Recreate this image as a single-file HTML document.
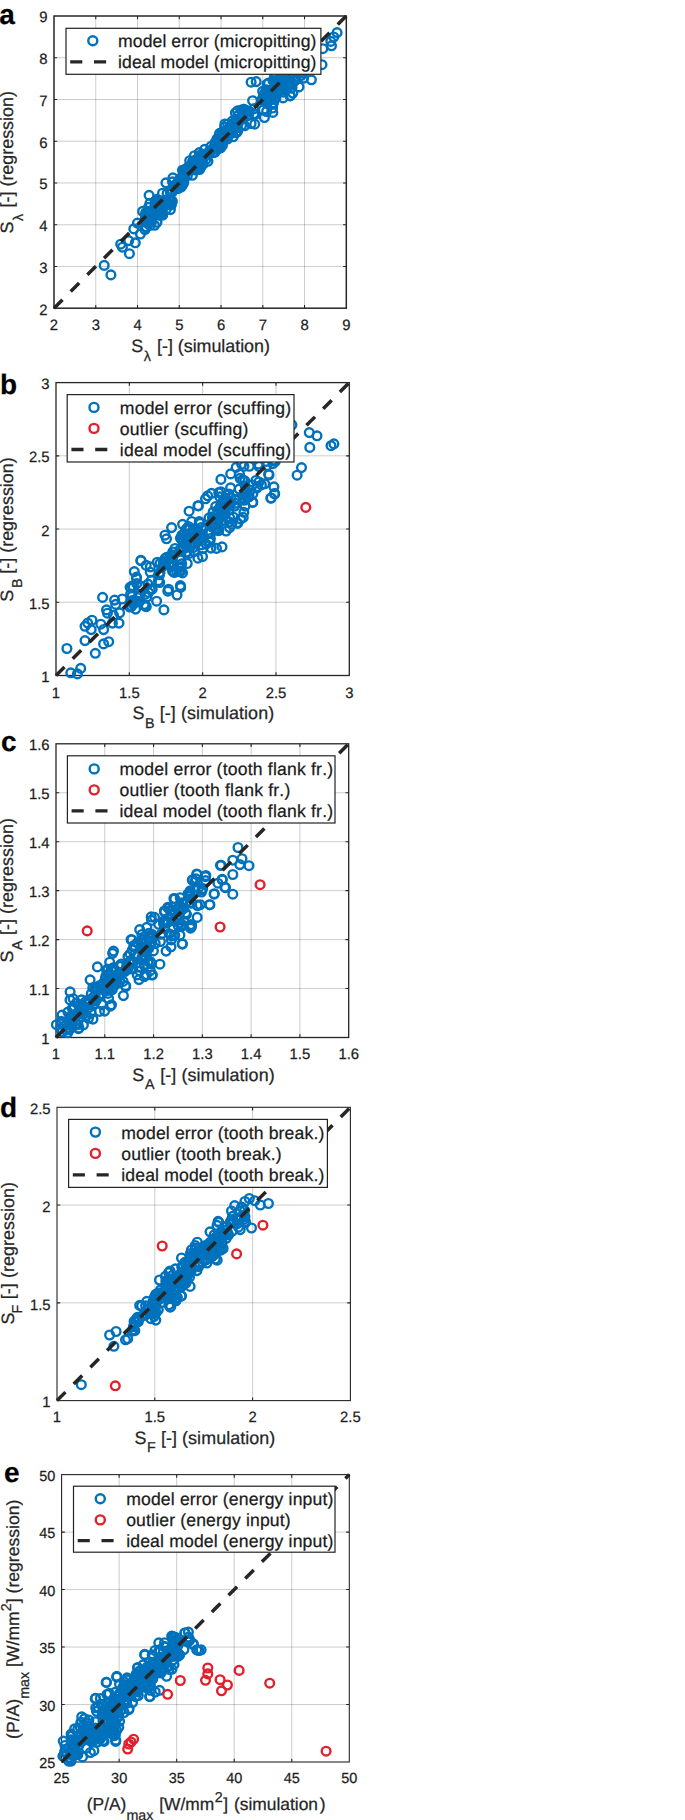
<!DOCTYPE html>
<html><head><meta charset="utf-8"><title>Regression vs simulation</title>
<style>html,body{margin:0;padding:0;background:#fff}body{width:685px;height:1820px;overflow:hidden}svg text{text-rendering:geometricPrecision;font-kerning:none;font-variant-ligatures:none;font-family:"Liberation Sans",Arial,Helvetica,sans-serif;stroke:#262626;stroke-width:.25px;paint-order:stroke}</style></head>
<body>
<svg width="685" height="1820" viewBox="0 0 685 1820" font-family="Liberation Sans, Arial, sans-serif" style="display:block">
<rect width="685" height="1820" fill="#fff"/>
<line x1="95.76" y1="16" x2="95.76" y2="308.2" stroke="#262626" stroke-opacity=".23" stroke-width="1"/>
<line x1="54" y1="266.46" x2="346.3" y2="266.46" stroke="#262626" stroke-opacity=".23" stroke-width="1"/>
<line x1="137.51" y1="16" x2="137.51" y2="308.2" stroke="#262626" stroke-opacity=".23" stroke-width="1"/>
<line x1="54" y1="224.71" x2="346.3" y2="224.71" stroke="#262626" stroke-opacity=".23" stroke-width="1"/>
<line x1="179.27" y1="16" x2="179.27" y2="308.2" stroke="#262626" stroke-opacity=".23" stroke-width="1"/>
<line x1="54" y1="182.97" x2="346.3" y2="182.97" stroke="#262626" stroke-opacity=".23" stroke-width="1"/>
<line x1="221.03" y1="16" x2="221.03" y2="308.2" stroke="#262626" stroke-opacity=".23" stroke-width="1"/>
<line x1="54" y1="141.23" x2="346.3" y2="141.23" stroke="#262626" stroke-opacity=".23" stroke-width="1"/>
<line x1="262.79" y1="16" x2="262.79" y2="308.2" stroke="#262626" stroke-opacity=".23" stroke-width="1"/>
<line x1="54" y1="99.49" x2="346.3" y2="99.49" stroke="#262626" stroke-opacity=".23" stroke-width="1"/>
<line x1="304.54" y1="16" x2="304.54" y2="308.2" stroke="#262626" stroke-opacity=".23" stroke-width="1"/>
<line x1="54" y1="57.74" x2="346.3" y2="57.74" stroke="#262626" stroke-opacity=".23" stroke-width="1"/>
<rect x="54" y="16" width="292.30" height="292.20" fill="none" stroke="#262626" stroke-width="1.5"/>
<path d="M95.76 308.2v-3.2M95.76 16v3.2M54 266.46h3.2M346.3 266.46h-3.2" stroke="#262626" stroke-width="1.1" fill="none"/>
<path d="M137.51 308.2v-3.2M137.51 16v3.2M54 224.71h3.2M346.3 224.71h-3.2" stroke="#262626" stroke-width="1.1" fill="none"/>
<path d="M179.27 308.2v-3.2M179.27 16v3.2M54 182.97h3.2M346.3 182.97h-3.2" stroke="#262626" stroke-width="1.1" fill="none"/>
<path d="M221.03 308.2v-3.2M221.03 16v3.2M54 141.23h3.2M346.3 141.23h-3.2" stroke="#262626" stroke-width="1.1" fill="none"/>
<path d="M262.79 308.2v-3.2M262.79 16v3.2M54 99.49h3.2M346.3 99.49h-3.2" stroke="#262626" stroke-width="1.1" fill="none"/>
<path d="M304.54 308.2v-3.2M304.54 16v3.2M54 57.74h3.2M346.3 57.74h-3.2" stroke="#262626" stroke-width="1.1" fill="none"/>
<g fill="none" stroke="#0072BD" stroke-width="2.4"><circle cx="104.2" cy="265.4" r="4.35"/><circle cx="110.9" cy="274.9" r="4.35"/><circle cx="120.7" cy="244.2" r="4.35"/><circle cx="122.4" cy="247.2" r="4.35"/><circle cx="129.4" cy="253.7" r="4.35"/><circle cx="128.7" cy="240.6" r="4.35"/><circle cx="135.3" cy="242.8" r="4.35"/><circle cx="140.4" cy="234.0" r="4.35"/><circle cx="133.8" cy="228.9" r="4.35"/><circle cx="137.4" cy="223.1" r="4.35"/><circle cx="142.6" cy="211.4" r="4.35"/><circle cx="149.1" cy="195.3" r="4.35"/><circle cx="149.9" cy="203.4" r="4.35"/><circle cx="251.1" cy="82.2" r="4.35"/><circle cx="256.2" cy="81.6" r="4.35"/><circle cx="251.1" cy="123.5" r="4.35"/><circle cx="254.7" cy="124.2" r="4.35"/><circle cx="337.1" cy="32.6" r="4.35"/><circle cx="333.7" cy="37.0" r="4.35"/><circle cx="330.8" cy="41.4" r="4.35"/><circle cx="331.5" cy="45.8" r="4.35"/><circle cx="322.8" cy="48.7" r="4.35"/><circle cx="322.0" cy="64.7" r="4.35"/><circle cx="311.4" cy="79.8" r="4.35"/><circle cx="252.6" cy="100.7" r="4.35"/><circle cx="247.6" cy="110.7" r="4.35"/><circle cx="264.4" cy="117.5" r="4.35"/><circle cx="272.8" cy="112.4" r="4.35"/><circle cx="157.0" cy="222.3" r="4.35"/><circle cx="157.4" cy="212.8" r="4.35"/><circle cx="158.6" cy="209.6" r="4.35"/><circle cx="158.7" cy="207.9" r="4.35"/><circle cx="162.2" cy="201.3" r="4.35"/><circle cx="152.6" cy="214.7" r="4.35"/><circle cx="146.4" cy="213.9" r="4.35"/><circle cx="145.0" cy="229.5" r="4.35"/><circle cx="172.5" cy="181.8" r="4.35"/><circle cx="161.8" cy="204.8" r="4.35"/><circle cx="148.4" cy="207.3" r="4.35"/><circle cx="145.5" cy="218.0" r="4.35"/><circle cx="149.3" cy="214.9" r="4.35"/><circle cx="157.3" cy="205.2" r="4.35"/><circle cx="156.7" cy="203.0" r="4.35"/><circle cx="162.5" cy="209.0" r="4.35"/><circle cx="158.4" cy="210.0" r="4.35"/><circle cx="151.9" cy="219.1" r="4.35"/><circle cx="172.9" cy="177.8" r="4.35"/><circle cx="164.5" cy="200.2" r="4.35"/><circle cx="153.0" cy="210.6" r="4.35"/><circle cx="145.8" cy="212.7" r="4.35"/><circle cx="166.2" cy="209.3" r="4.35"/><circle cx="155.1" cy="201.2" r="4.35"/><circle cx="171.8" cy="192.4" r="4.35"/><circle cx="149.9" cy="214.6" r="4.35"/><circle cx="170.4" cy="209.6" r="4.35"/><circle cx="155.4" cy="205.2" r="4.35"/><circle cx="145.9" cy="226.9" r="4.35"/><circle cx="151.7" cy="221.6" r="4.35"/><circle cx="146.3" cy="227.1" r="4.35"/><circle cx="165.9" cy="182.8" r="4.35"/><circle cx="147.2" cy="217.0" r="4.35"/><circle cx="145.5" cy="215.5" r="4.35"/><circle cx="167.1" cy="193.3" r="4.35"/><circle cx="156.9" cy="199.3" r="4.35"/><circle cx="149.4" cy="215.4" r="4.35"/><circle cx="162.6" cy="205.5" r="4.35"/><circle cx="147.2" cy="221.4" r="4.35"/><circle cx="151.7" cy="210.3" r="4.35"/><circle cx="172.2" cy="190.2" r="4.35"/><circle cx="169.6" cy="200.4" r="4.35"/><circle cx="149.9" cy="225.4" r="4.35"/><circle cx="162.5" cy="193.2" r="4.35"/><circle cx="146.7" cy="212.7" r="4.35"/><circle cx="151.3" cy="213.3" r="4.35"/><circle cx="166.4" cy="200.8" r="4.35"/><circle cx="145.9" cy="213.2" r="4.35"/><circle cx="146.4" cy="222.5" r="4.35"/><circle cx="161.4" cy="205.6" r="4.35"/><circle cx="154.6" cy="225.3" r="4.35"/><circle cx="157.9" cy="201.2" r="4.35"/><circle cx="160.6" cy="200.7" r="4.35"/><circle cx="148.3" cy="219.4" r="4.35"/><circle cx="170.3" cy="191.8" r="4.35"/><circle cx="161.2" cy="214.4" r="4.35"/><circle cx="169.2" cy="200.9" r="4.35"/><circle cx="172.3" cy="201.4" r="4.35"/><circle cx="171.3" cy="204.9" r="4.35"/><circle cx="159.9" cy="215.4" r="4.35"/><circle cx="159.0" cy="210.7" r="4.35"/><circle cx="168.7" cy="204.7" r="4.35"/><circle cx="162.1" cy="208.0" r="4.35"/><circle cx="162.7" cy="215.0" r="4.35"/><circle cx="161.0" cy="212.0" r="4.35"/><circle cx="161.7" cy="212.5" r="4.35"/><circle cx="166.6" cy="202.6" r="4.35"/><circle cx="162.5" cy="214.8" r="4.35"/><circle cx="171.8" cy="200.7" r="4.35"/><circle cx="175.3" cy="186.4" r="4.35"/><circle cx="176.7" cy="183.6" r="4.35"/><circle cx="176.1" cy="185.4" r="4.35"/><circle cx="177.8" cy="182.3" r="4.35"/><circle cx="180.4" cy="179.5" r="4.35"/><circle cx="181.2" cy="183.9" r="4.35"/><circle cx="177.9" cy="188.6" r="4.35"/><circle cx="174.2" cy="187.4" r="4.35"/><circle cx="180.6" cy="181.5" r="4.35"/><circle cx="178.9" cy="182.7" r="4.35"/><circle cx="193.9" cy="165.2" r="4.35"/><circle cx="190.3" cy="169.1" r="4.35"/><circle cx="202.2" cy="160.7" r="4.35"/><circle cx="181.0" cy="185.1" r="4.35"/><circle cx="199.9" cy="161.1" r="4.35"/><circle cx="196.2" cy="165.0" r="4.35"/><circle cx="200.3" cy="166.4" r="4.35"/><circle cx="187.4" cy="175.5" r="4.35"/><circle cx="199.3" cy="168.7" r="4.35"/><circle cx="188.9" cy="167.7" r="4.35"/><circle cx="192.4" cy="175.3" r="4.35"/><circle cx="193.6" cy="169.8" r="4.35"/><circle cx="193.3" cy="161.6" r="4.35"/><circle cx="181.1" cy="187.1" r="4.35"/><circle cx="199.5" cy="169.5" r="4.35"/><circle cx="196.0" cy="168.6" r="4.35"/><circle cx="192.6" cy="161.5" r="4.35"/><circle cx="189.4" cy="168.5" r="4.35"/><circle cx="196.5" cy="164.0" r="4.35"/><circle cx="180.0" cy="183.2" r="4.35"/><circle cx="184.6" cy="177.5" r="4.35"/><circle cx="195.3" cy="169.9" r="4.35"/><circle cx="200.4" cy="158.4" r="4.35"/><circle cx="185.1" cy="169.9" r="4.35"/><circle cx="194.8" cy="163.8" r="4.35"/><circle cx="183.9" cy="170.2" r="4.35"/><circle cx="194.4" cy="155.7" r="4.35"/><circle cx="189.4" cy="166.3" r="4.35"/><circle cx="194.6" cy="166.9" r="4.35"/><circle cx="183.8" cy="182.6" r="4.35"/><circle cx="200.3" cy="155.1" r="4.35"/><circle cx="199.5" cy="164.0" r="4.35"/><circle cx="186.5" cy="168.3" r="4.35"/><circle cx="182.4" cy="185.3" r="4.35"/><circle cx="198.8" cy="160.0" r="4.35"/><circle cx="195.6" cy="159.8" r="4.35"/><circle cx="183.2" cy="176.9" r="4.35"/><circle cx="189.6" cy="169.8" r="4.35"/><circle cx="188.8" cy="167.0" r="4.35"/><circle cx="193.6" cy="169.3" r="4.35"/><circle cx="198.5" cy="160.2" r="4.35"/><circle cx="201.8" cy="158.8" r="4.35"/><circle cx="180.0" cy="178.4" r="4.35"/><circle cx="199.3" cy="152.6" r="4.35"/><circle cx="192.4" cy="164.7" r="4.35"/><circle cx="186.4" cy="172.3" r="4.35"/><circle cx="182.4" cy="177.4" r="4.35"/><circle cx="189.7" cy="160.7" r="4.35"/><circle cx="184.7" cy="172.8" r="4.35"/><circle cx="182.5" cy="170.2" r="4.35"/><circle cx="209.5" cy="151.2" r="4.35"/><circle cx="213.3" cy="152.8" r="4.35"/><circle cx="220.2" cy="147.7" r="4.35"/><circle cx="214.4" cy="146.5" r="4.35"/><circle cx="203.9" cy="154.3" r="4.35"/><circle cx="200.4" cy="167.7" r="4.35"/><circle cx="203.9" cy="157.3" r="4.35"/><circle cx="205.8" cy="159.7" r="4.35"/><circle cx="211.0" cy="146.4" r="4.35"/><circle cx="213.0" cy="149.1" r="4.35"/><circle cx="216.7" cy="149.3" r="4.35"/><circle cx="219.1" cy="135.7" r="4.35"/><circle cx="215.2" cy="142.5" r="4.35"/><circle cx="202.9" cy="164.4" r="4.35"/><circle cx="219.1" cy="141.6" r="4.35"/><circle cx="208.0" cy="161.3" r="4.35"/><circle cx="216.8" cy="148.7" r="4.35"/><circle cx="219.9" cy="147.7" r="4.35"/><circle cx="204.4" cy="156.6" r="4.35"/><circle cx="215.2" cy="144.8" r="4.35"/><circle cx="215.1" cy="152.0" r="4.35"/><circle cx="204.6" cy="149.4" r="4.35"/><circle cx="220.6" cy="147.9" r="4.35"/><circle cx="211.4" cy="150.1" r="4.35"/><circle cx="219.1" cy="146.3" r="4.35"/><circle cx="218.0" cy="145.1" r="4.35"/><circle cx="209.4" cy="151.6" r="4.35"/><circle cx="211.6" cy="150.1" r="4.35"/><circle cx="200.7" cy="165.8" r="4.35"/><circle cx="217.0" cy="139.0" r="4.35"/><circle cx="223.6" cy="132.2" r="4.35"/><circle cx="228.0" cy="130.7" r="4.35"/><circle cx="223.0" cy="139.0" r="4.35"/><circle cx="233.0" cy="128.0" r="4.35"/><circle cx="237.7" cy="131.1" r="4.35"/><circle cx="244.6" cy="125.8" r="4.35"/><circle cx="221.3" cy="137.5" r="4.35"/><circle cx="225.0" cy="138.5" r="4.35"/><circle cx="238.7" cy="121.3" r="4.35"/><circle cx="236.3" cy="132.6" r="4.35"/><circle cx="234.1" cy="126.6" r="4.35"/><circle cx="227.4" cy="139.0" r="4.35"/><circle cx="243.4" cy="109.4" r="4.35"/><circle cx="224.6" cy="127.0" r="4.35"/><circle cx="233.2" cy="136.8" r="4.35"/><circle cx="234.5" cy="123.0" r="4.35"/><circle cx="232.6" cy="120.8" r="4.35"/><circle cx="235.4" cy="113.0" r="4.35"/><circle cx="232.9" cy="124.1" r="4.35"/><circle cx="229.8" cy="127.5" r="4.35"/><circle cx="232.3" cy="133.2" r="4.35"/><circle cx="237.7" cy="115.9" r="4.35"/><circle cx="230.2" cy="126.7" r="4.35"/><circle cx="244.9" cy="110.9" r="4.35"/><circle cx="231.8" cy="129.4" r="4.35"/><circle cx="222.4" cy="145.4" r="4.35"/><circle cx="243.4" cy="112.2" r="4.35"/><circle cx="231.9" cy="128.8" r="4.35"/><circle cx="235.7" cy="120.6" r="4.35"/><circle cx="244.1" cy="109.3" r="4.35"/><circle cx="219.6" cy="133.4" r="4.35"/><circle cx="224.2" cy="134.0" r="4.35"/><circle cx="227.7" cy="124.1" r="4.35"/><circle cx="228.6" cy="132.5" r="4.35"/><circle cx="238.8" cy="122.2" r="4.35"/><circle cx="222.3" cy="140.9" r="4.35"/><circle cx="224.3" cy="135.3" r="4.35"/><circle cx="233.3" cy="130.5" r="4.35"/><circle cx="230.2" cy="127.3" r="4.35"/><circle cx="233.3" cy="124.2" r="4.35"/><circle cx="236.1" cy="120.4" r="4.35"/><circle cx="236.3" cy="132.7" r="4.35"/><circle cx="235.5" cy="125.6" r="4.35"/><circle cx="242.2" cy="116.3" r="4.35"/><circle cx="240.9" cy="110.2" r="4.35"/><circle cx="243.4" cy="117.7" r="4.35"/><circle cx="244.0" cy="111.4" r="4.35"/><circle cx="224.9" cy="124.0" r="4.35"/><circle cx="222.6" cy="136.9" r="4.35"/><circle cx="225.4" cy="134.5" r="4.35"/><circle cx="221.6" cy="141.6" r="4.35"/><circle cx="241.5" cy="125.6" r="4.35"/><circle cx="222.4" cy="132.8" r="4.35"/><circle cx="229.9" cy="129.8" r="4.35"/><circle cx="224.4" cy="135.8" r="4.35"/><circle cx="237.5" cy="110.9" r="4.35"/><circle cx="222.1" cy="144.2" r="4.35"/><circle cx="232.7" cy="126.4" r="4.35"/><circle cx="237.6" cy="127.7" r="4.35"/><circle cx="224.1" cy="133.1" r="4.35"/><circle cx="246.7" cy="115.4" r="4.35"/><circle cx="255.3" cy="114.3" r="4.35"/><circle cx="248.5" cy="115.2" r="4.35"/><circle cx="249.2" cy="111.2" r="4.35"/><circle cx="262.6" cy="91.3" r="4.35"/><circle cx="261.6" cy="100.1" r="4.35"/><circle cx="262.0" cy="100.1" r="4.35"/><circle cx="253.8" cy="108.9" r="4.35"/><circle cx="253.9" cy="113.7" r="4.35"/><circle cx="254.7" cy="114.6" r="4.35"/><circle cx="263.4" cy="95.8" r="4.35"/><circle cx="297.9" cy="63.5" r="4.35"/><circle cx="285.5" cy="84.3" r="4.35"/><circle cx="299.8" cy="70.2" r="4.35"/><circle cx="271.1" cy="90.2" r="4.35"/><circle cx="288.5" cy="56.1" r="4.35"/><circle cx="303.0" cy="59.9" r="4.35"/><circle cx="298.1" cy="58.0" r="4.35"/><circle cx="283.1" cy="92.1" r="4.35"/><circle cx="292.8" cy="93.1" r="4.35"/><circle cx="303.1" cy="62.4" r="4.35"/><circle cx="275.7" cy="75.6" r="4.35"/><circle cx="301.8" cy="71.4" r="4.35"/><circle cx="303.6" cy="78.1" r="4.35"/><circle cx="306.9" cy="46.5" r="4.35"/><circle cx="297.6" cy="65.4" r="4.35"/><circle cx="283.1" cy="97.9" r="4.35"/><circle cx="299.0" cy="57.9" r="4.35"/><circle cx="286.3" cy="74.7" r="4.35"/><circle cx="263.3" cy="109.9" r="4.35"/><circle cx="294.1" cy="59.9" r="4.35"/><circle cx="274.4" cy="77.0" r="4.35"/><circle cx="279.7" cy="89.9" r="4.35"/><circle cx="295.8" cy="79.7" r="4.35"/><circle cx="282.3" cy="87.5" r="4.35"/><circle cx="312.9" cy="61.3" r="4.35"/><circle cx="301.0" cy="75.5" r="4.35"/><circle cx="311.9" cy="39.8" r="4.35"/><circle cx="299.8" cy="63.1" r="4.35"/><circle cx="275.6" cy="91.7" r="4.35"/><circle cx="272.6" cy="90.4" r="4.35"/><circle cx="281.6" cy="77.2" r="4.35"/><circle cx="308.2" cy="52.4" r="4.35"/><circle cx="290.3" cy="95.6" r="4.35"/><circle cx="291.2" cy="74.8" r="4.35"/><circle cx="312.6" cy="63.5" r="4.35"/><circle cx="266.6" cy="111.5" r="4.35"/><circle cx="292.7" cy="71.9" r="4.35"/><circle cx="309.4" cy="58.3" r="4.35"/><circle cx="270.8" cy="99.7" r="4.35"/><circle cx="287.6" cy="76.1" r="4.35"/><circle cx="293.4" cy="50.3" r="4.35"/><circle cx="283.9" cy="72.6" r="4.35"/><circle cx="289.2" cy="83.1" r="4.35"/><circle cx="277.1" cy="93.0" r="4.35"/><circle cx="295.6" cy="76.5" r="4.35"/><circle cx="298.7" cy="69.0" r="4.35"/><circle cx="277.6" cy="80.0" r="4.35"/><circle cx="264.9" cy="99.2" r="4.35"/><circle cx="270.6" cy="93.9" r="4.35"/><circle cx="307.8" cy="66.6" r="4.35"/><circle cx="300.3" cy="43.4" r="4.35"/><circle cx="310.1" cy="45.8" r="4.35"/><circle cx="266.5" cy="89.9" r="4.35"/><circle cx="286.7" cy="83.8" r="4.35"/><circle cx="311.5" cy="52.8" r="4.35"/><circle cx="309.8" cy="43.4" r="4.35"/><circle cx="299.0" cy="86.9" r="4.35"/><circle cx="303.7" cy="55.8" r="4.35"/><circle cx="293.0" cy="61.7" r="4.35"/><circle cx="285.6" cy="70.3" r="4.35"/><circle cx="273.0" cy="80.6" r="4.35"/><circle cx="269.0" cy="92.0" r="4.35"/><circle cx="285.0" cy="85.0" r="4.35"/><circle cx="275.9" cy="98.1" r="4.35"/><circle cx="292.0" cy="87.4" r="4.35"/><circle cx="289.4" cy="67.3" r="4.35"/><circle cx="312.8" cy="37.1" r="4.35"/><circle cx="274.7" cy="94.6" r="4.35"/><circle cx="268.5" cy="83.1" r="4.35"/><circle cx="294.1" cy="81.2" r="4.35"/><circle cx="280.8" cy="86.0" r="4.35"/><circle cx="291.1" cy="59.2" r="4.35"/><circle cx="292.4" cy="83.1" r="4.35"/><circle cx="272.3" cy="104.4" r="4.35"/><circle cx="275.3" cy="68.4" r="4.35"/><circle cx="306.8" cy="60.7" r="4.35"/><circle cx="264.8" cy="92.9" r="4.35"/><circle cx="284.1" cy="77.8" r="4.35"/><circle cx="294.0" cy="61.2" r="4.35"/><circle cx="266.4" cy="91.2" r="4.35"/><circle cx="267.1" cy="103.1" r="4.35"/><circle cx="294.4" cy="81.2" r="4.35"/><circle cx="281.5" cy="89.8" r="4.35"/><circle cx="280.0" cy="83.9" r="4.35"/><circle cx="300.1" cy="62.7" r="4.35"/><circle cx="268.8" cy="99.2" r="4.35"/><circle cx="303.3" cy="73.2" r="4.35"/><circle cx="273.5" cy="102.8" r="4.35"/><circle cx="284.0" cy="81.6" r="4.35"/><circle cx="281.3" cy="66.0" r="4.35"/><circle cx="295.5" cy="60.7" r="4.35"/><circle cx="290.3" cy="75.1" r="4.35"/><circle cx="300.2" cy="55.7" r="4.35"/><circle cx="281.3" cy="88.3" r="4.35"/><circle cx="267.6" cy="94.4" r="4.35"/><circle cx="266.9" cy="100.6" r="4.35"/><circle cx="291.1" cy="88.3" r="4.35"/><circle cx="277.8" cy="85.6" r="4.35"/><circle cx="301.6" cy="57.2" r="4.35"/><circle cx="296.0" cy="65.8" r="4.35"/><circle cx="266.9" cy="103.0" r="4.35"/><circle cx="297.6" cy="52.7" r="4.35"/><circle cx="277.0" cy="82.2" r="4.35"/><circle cx="299.2" cy="58.6" r="4.35"/><circle cx="281.1" cy="72.5" r="4.35"/><circle cx="291.3" cy="63.3" r="4.35"/><circle cx="308.8" cy="36.2" r="4.35"/><circle cx="284.7" cy="87.9" r="4.35"/><circle cx="303.0" cy="64.6" r="4.35"/><circle cx="282.8" cy="74.1" r="4.35"/><circle cx="309.6" cy="49.4" r="4.35"/><circle cx="280.9" cy="88.3" r="4.35"/><circle cx="281.1" cy="90.0" r="4.35"/><circle cx="282.2" cy="75.3" r="4.35"/><circle cx="272.6" cy="108.0" r="4.35"/><circle cx="289.9" cy="81.6" r="4.35"/><circle cx="304.7" cy="65.6" r="4.35"/><circle cx="300.8" cy="66.3" r="4.35"/><circle cx="306.9" cy="58.3" r="4.35"/><circle cx="288.6" cy="74.2" r="4.35"/><circle cx="290.1" cy="95.9" r="4.35"/><circle cx="295.4" cy="79.7" r="4.35"/><circle cx="303.1" cy="50.6" r="4.35"/><circle cx="302.3" cy="57.8" r="4.35"/><circle cx="267.0" cy="84.1" r="4.35"/><circle cx="307.8" cy="49.3" r="4.35"/><circle cx="267.0" cy="101.3" r="4.35"/><circle cx="300.2" cy="68.6" r="4.35"/><circle cx="295.3" cy="69.3" r="4.35"/><circle cx="295.7" cy="51.4" r="4.35"/><circle cx="286.6" cy="62.1" r="4.35"/><circle cx="279.7" cy="71.8" r="4.35"/><circle cx="303.4" cy="46.9" r="4.35"/><circle cx="287.2" cy="64.3" r="4.35"/><circle cx="294.1" cy="56.3" r="4.35"/><circle cx="282.4" cy="71.9" r="4.35"/><circle cx="298.0" cy="53.4" r="4.35"/><circle cx="297.2" cy="55.9" r="4.35"/><circle cx="298.3" cy="45.8" r="4.35"/><circle cx="291.0" cy="62.0" r="4.35"/><circle cx="286.6" cy="63.4" r="4.35"/><circle cx="282.8" cy="70.5" r="4.35"/><circle cx="282.8" cy="63.7" r="4.35"/></g>
<line x1="54" y1="308.2" x2="346.3" y2="16" stroke="#262626" stroke-width="3.5" stroke-dasharray="12 11.6"/>
<text transform="translate(54.00 329.80) scale(.99 1)" text-anchor="middle" font-size="15.0" fill="#1c1c1c">2</text>
<text transform="translate(47.60 314.55) scale(.99 1)" text-anchor="end" font-size="15.0" fill="#1c1c1c">2</text>
<text transform="translate(95.76 329.80) scale(.99 1)" text-anchor="middle" font-size="15.0" fill="#1c1c1c">3</text>
<text transform="translate(47.60 272.81) scale(.99 1)" text-anchor="end" font-size="15.0" fill="#1c1c1c">3</text>
<text transform="translate(137.51 329.80) scale(.99 1)" text-anchor="middle" font-size="15.0" fill="#1c1c1c">4</text>
<text transform="translate(47.60 231.06) scale(.99 1)" text-anchor="end" font-size="15.0" fill="#1c1c1c">4</text>
<text transform="translate(179.27 329.80) scale(.99 1)" text-anchor="middle" font-size="15.0" fill="#1c1c1c">5</text>
<text transform="translate(47.60 189.32) scale(.99 1)" text-anchor="end" font-size="15.0" fill="#1c1c1c">5</text>
<text transform="translate(221.03 329.80) scale(.99 1)" text-anchor="middle" font-size="15.0" fill="#1c1c1c">6</text>
<text transform="translate(47.60 147.58) scale(.99 1)" text-anchor="end" font-size="15.0" fill="#1c1c1c">6</text>
<text transform="translate(262.79 329.80) scale(.99 1)" text-anchor="middle" font-size="15.0" fill="#1c1c1c">7</text>
<text transform="translate(47.60 105.84) scale(.99 1)" text-anchor="end" font-size="15.0" fill="#1c1c1c">7</text>
<text transform="translate(304.54 329.80) scale(.99 1)" text-anchor="middle" font-size="15.0" fill="#1c1c1c">8</text>
<text transform="translate(47.60 64.09) scale(.99 1)" text-anchor="end" font-size="15.0" fill="#1c1c1c">8</text>
<text transform="translate(346.30 329.80) scale(.99 1)" text-anchor="middle" font-size="15.0" fill="#1c1c1c">9</text>
<text transform="translate(47.60 22.35) scale(.99 1)" text-anchor="end" font-size="15.0" fill="#1c1c1c">9</text>
<rect x="66" y="28.3" width="254.90" height="46.00" fill="#fff" stroke="#222" stroke-width="1.2"/>
<circle cx="92.8" cy="40.8" r="4.5" fill="none" stroke="#0072BD" stroke-width="2.4"/>
<text x="118.1" y="47.2" font-size="17.6" letter-spacing="0.07" fill="#1a1a1a">model error (micropitting)</text>
<line x1="70.2" y1="61.8" x2="106.2" y2="61.8" stroke="#262626" stroke-width="3.3" stroke-dasharray="12.1 11.7"/>
<text x="118.1" y="68.2" font-size="17.6" letter-spacing="0.07" fill="#1a1a1a">ideal model (micropitting)</text>
<text x="-0.7" y="24.0" font-size="28" font-weight="bold" fill="#000">a</text>
<text font-size="17.9" fill="#262626"><tspan x="131.2" y="352.3">S</tspan><tspan x="143.8" y="361.2" font-size="14.3">λ</tspan><tspan x="152.1" y="352.3" letter-spacing="-0.03" xml:space="preserve"> [-] (simulation)</tspan></text>
<g transform="translate(13.1,233.6) rotate(-90)"><text font-size="17.9" fill="#262626"><tspan x="0" y="0">S</tspan><tspan x="12.6" y="9.5" font-size="14.3">λ</tspan><tspan x="21.2" y="0" letter-spacing="0" xml:space="preserve"> [-] (regression)</tspan></text></g>
<line x1="129.32" y1="382.6" x2="129.32" y2="675.5" stroke="#262626" stroke-opacity=".23" stroke-width="1"/>
<line x1="56" y1="602.27" x2="349.3" y2="602.27" stroke="#262626" stroke-opacity=".23" stroke-width="1"/>
<line x1="202.65" y1="382.6" x2="202.65" y2="675.5" stroke="#262626" stroke-opacity=".23" stroke-width="1"/>
<line x1="56" y1="529.05" x2="349.3" y2="529.05" stroke="#262626" stroke-opacity=".23" stroke-width="1"/>
<line x1="275.98" y1="382.6" x2="275.98" y2="675.5" stroke="#262626" stroke-opacity=".23" stroke-width="1"/>
<line x1="56" y1="455.83" x2="349.3" y2="455.83" stroke="#262626" stroke-opacity=".23" stroke-width="1"/>
<rect x="56" y="382.6" width="293.30" height="292.90" fill="none" stroke="#262626" stroke-width="1.3"/>
<path d="M129.32 675.5v-3.2M129.32 382.6v3.2M56 602.27h3.2M349.3 602.27h-3.2" stroke="#262626" stroke-width="1.1" fill="none"/>
<path d="M202.65 675.5v-3.2M202.65 382.6v3.2M56 529.05h3.2M349.3 529.05h-3.2" stroke="#262626" stroke-width="1.1" fill="none"/>
<path d="M275.98 675.5v-3.2M275.98 382.6v3.2M56 455.83h3.2M349.3 455.83h-3.2" stroke="#262626" stroke-width="1.1" fill="none"/>
<g fill="none" stroke="#0072BD" stroke-width="2.4"><circle cx="66.9" cy="648.5" r="4.35"/><circle cx="70.8" cy="672.8" r="4.35"/><circle cx="77.4" cy="673.9" r="4.35"/><circle cx="80.7" cy="668.4" r="4.35"/><circle cx="95.3" cy="653.3" r="4.35"/><circle cx="85.0" cy="640.6" r="4.35"/><circle cx="103.6" cy="643.9" r="4.35"/><circle cx="108.7" cy="641.7" r="4.35"/><circle cx="85.0" cy="626.3" r="4.35"/><circle cx="87.7" cy="623.1" r="4.35"/><circle cx="92.0" cy="620.2" r="4.35"/><circle cx="91.2" cy="629.6" r="4.35"/><circle cx="100.8" cy="624.2" r="4.35"/><circle cx="103.6" cy="629.6" r="4.35"/><circle cx="102.6" cy="597.4" r="4.35"/><circle cx="106.5" cy="609.9" r="4.35"/><circle cx="107.4" cy="613.2" r="4.35"/><circle cx="114.6" cy="600.1" r="4.35"/><circle cx="115.7" cy="604.4" r="4.35"/><circle cx="122.3" cy="599.0" r="4.35"/><circle cx="119.6" cy="612.8" r="4.35"/><circle cx="113.5" cy="615.4" r="4.35"/><circle cx="119.0" cy="623.1" r="4.35"/><circle cx="112.4" cy="623.1" r="4.35"/><circle cx="132.8" cy="600.5" r="4.35"/><circle cx="137.6" cy="601.6" r="4.35"/><circle cx="146.3" cy="606.6" r="4.35"/><circle cx="156.6" cy="601.2" r="4.35"/><circle cx="163.9" cy="609.9" r="4.35"/><circle cx="177.0" cy="595.0" r="4.35"/><circle cx="180.7" cy="587.4" r="4.35"/><circle cx="133.2" cy="587.4" r="4.35"/><circle cx="134.3" cy="571.6" r="4.35"/><circle cx="136.5" cy="577.1" r="4.35"/><circle cx="140.9" cy="560.7" r="4.35"/><circle cx="148.5" cy="592.4" r="4.35"/><circle cx="309.3" cy="432.6" r="4.35"/><circle cx="317.0" cy="435.8" r="4.35"/><circle cx="309.8" cy="447.4" r="4.35"/><circle cx="331.0" cy="445.7" r="4.35"/><circle cx="333.9" cy="443.9" r="4.35"/><circle cx="291.9" cy="424.9" r="4.35"/><circle cx="301.5" cy="467.6" r="4.35"/><circle cx="297.1" cy="475.2" r="4.35"/><circle cx="274.7" cy="493.9" r="4.35"/><circle cx="270.8" cy="498.2" r="4.35"/><circle cx="268.6" cy="474.2" r="4.35"/><circle cx="252.8" cy="502.2" r="4.35"/><circle cx="237.5" cy="523.4" r="4.35"/><circle cx="207.7" cy="495.8" r="4.35"/><circle cx="220.9" cy="479.4" r="4.35"/><circle cx="189.1" cy="511.2" r="4.35"/><circle cx="171.6" cy="527.6" r="4.35"/><circle cx="165.0" cy="535.2" r="4.35"/><circle cx="140.9" cy="560.4" r="4.35"/><circle cx="236.2" cy="467.4" r="4.35"/><circle cx="230.7" cy="473.9" r="4.35"/><circle cx="239.5" cy="473.9" r="4.35"/><circle cx="243.9" cy="466.3" r="4.35"/><circle cx="249.3" cy="466.3" r="4.35"/><circle cx="218.7" cy="492.6" r="4.35"/><circle cx="219.8" cy="496.9" r="4.35"/><circle cx="197.9" cy="505.7" r="4.35"/><circle cx="182.6" cy="524.3" r="4.35"/><circle cx="216.5" cy="548.4" r="4.35"/><circle cx="222.0" cy="546.9" r="4.35"/><circle cx="229.6" cy="527.6" r="4.35"/><circle cx="237.3" cy="522.8" r="4.35"/><circle cx="252.6" cy="502.4" r="4.35"/><circle cx="271.2" cy="498.0" r="4.35"/><circle cx="274.5" cy="493.6" r="4.35"/><circle cx="197.9" cy="558.2" r="4.35"/><circle cx="180.4" cy="567.0" r="4.35"/><circle cx="179.3" cy="571.4" r="4.35"/><circle cx="180.4" cy="585.6" r="4.35"/><circle cx="209.9" cy="541.8" r="4.35"/><circle cx="243.9" cy="512.3" r="4.35"/><circle cx="269.0" cy="475.0" r="4.35"/><circle cx="261.4" cy="484.9" r="4.35"/><circle cx="264.7" cy="483.8" r="4.35"/><circle cx="255.9" cy="480.5" r="4.35"/><circle cx="150.2" cy="589.5" r="4.35"/><circle cx="135.6" cy="609.1" r="4.35"/><circle cx="129.8" cy="607.0" r="4.35"/><circle cx="165.0" cy="558.6" r="4.35"/><circle cx="159.7" cy="582.5" r="4.35"/><circle cx="158.4" cy="580.7" r="4.35"/><circle cx="135.7" cy="600.9" r="4.35"/><circle cx="169.2" cy="558.4" r="4.35"/><circle cx="131.9" cy="596.3" r="4.35"/><circle cx="159.5" cy="574.8" r="4.35"/><circle cx="144.2" cy="604.6" r="4.35"/><circle cx="130.1" cy="587.3" r="4.35"/><circle cx="132.0" cy="586.1" r="4.35"/><circle cx="133.3" cy="603.9" r="4.35"/><circle cx="172.8" cy="552.0" r="4.35"/><circle cx="147.9" cy="584.1" r="4.35"/><circle cx="135.3" cy="601.1" r="4.35"/><circle cx="136.5" cy="578.5" r="4.35"/><circle cx="160.0" cy="563.4" r="4.35"/><circle cx="165.2" cy="562.7" r="4.35"/><circle cx="146.9" cy="597.0" r="4.35"/><circle cx="150.3" cy="572.2" r="4.35"/><circle cx="146.2" cy="565.4" r="4.35"/><circle cx="171.9" cy="554.7" r="4.35"/><circle cx="172.3" cy="563.6" r="4.35"/><circle cx="145.3" cy="594.3" r="4.35"/><circle cx="159.7" cy="573.1" r="4.35"/><circle cx="139.7" cy="595.6" r="4.35"/><circle cx="145.3" cy="606.1" r="4.35"/><circle cx="151.3" cy="580.4" r="4.35"/><circle cx="130.6" cy="594.1" r="4.35"/><circle cx="152.2" cy="589.2" r="4.35"/><circle cx="139.1" cy="601.5" r="4.35"/><circle cx="163.3" cy="561.8" r="4.35"/><circle cx="133.8" cy="603.3" r="4.35"/><circle cx="159.9" cy="572.5" r="4.35"/><circle cx="130.9" cy="601.0" r="4.35"/><circle cx="157.3" cy="562.2" r="4.35"/><circle cx="131.6" cy="606.3" r="4.35"/><circle cx="141.7" cy="586.4" r="4.35"/><circle cx="150.3" cy="566.9" r="4.35"/><circle cx="171.4" cy="562.3" r="4.35"/><circle cx="136.7" cy="583.5" r="4.35"/><circle cx="137.7" cy="597.6" r="4.35"/><circle cx="162.3" cy="566.8" r="4.35"/><circle cx="183.7" cy="548.7" r="4.35"/><circle cx="216.8" cy="519.9" r="4.35"/><circle cx="166.6" cy="557.3" r="4.35"/><circle cx="168.6" cy="589.2" r="4.35"/><circle cx="231.9" cy="524.2" r="4.35"/><circle cx="199.2" cy="521.6" r="4.35"/><circle cx="218.0" cy="512.1" r="4.35"/><circle cx="220.9" cy="516.6" r="4.35"/><circle cx="200.8" cy="537.8" r="4.35"/><circle cx="197.5" cy="541.0" r="4.35"/><circle cx="228.5" cy="510.2" r="4.35"/><circle cx="225.0" cy="501.3" r="4.35"/><circle cx="223.6" cy="499.3" r="4.35"/><circle cx="184.4" cy="533.3" r="4.35"/><circle cx="211.9" cy="525.0" r="4.35"/><circle cx="212.5" cy="516.9" r="4.35"/><circle cx="182.8" cy="538.9" r="4.35"/><circle cx="211.1" cy="522.9" r="4.35"/><circle cx="224.5" cy="513.5" r="4.35"/><circle cx="193.7" cy="537.2" r="4.35"/><circle cx="230.6" cy="487.8" r="4.35"/><circle cx="202.9" cy="548.6" r="4.35"/><circle cx="229.5" cy="522.0" r="4.35"/><circle cx="216.2" cy="530.0" r="4.35"/><circle cx="225.4" cy="498.1" r="4.35"/><circle cx="218.1" cy="523.7" r="4.35"/><circle cx="190.3" cy="546.9" r="4.35"/><circle cx="214.5" cy="519.3" r="4.35"/><circle cx="212.9" cy="519.8" r="4.35"/><circle cx="225.6" cy="498.3" r="4.35"/><circle cx="226.1" cy="531.0" r="4.35"/><circle cx="201.3" cy="527.5" r="4.35"/><circle cx="172.5" cy="571.0" r="4.35"/><circle cx="189.3" cy="553.4" r="4.35"/><circle cx="211.5" cy="493.4" r="4.35"/><circle cx="201.7" cy="534.6" r="4.35"/><circle cx="201.2" cy="534.9" r="4.35"/><circle cx="212.2" cy="526.8" r="4.35"/><circle cx="192.8" cy="533.1" r="4.35"/><circle cx="187.3" cy="547.1" r="4.35"/><circle cx="172.0" cy="566.0" r="4.35"/><circle cx="186.6" cy="552.1" r="4.35"/><circle cx="209.5" cy="542.0" r="4.35"/><circle cx="227.7" cy="506.1" r="4.35"/><circle cx="198.2" cy="531.2" r="4.35"/><circle cx="195.3" cy="528.5" r="4.35"/><circle cx="188.5" cy="526.5" r="4.35"/><circle cx="181.7" cy="563.9" r="4.35"/><circle cx="166.5" cy="538.8" r="4.35"/><circle cx="189.8" cy="543.5" r="4.35"/><circle cx="194.5" cy="529.0" r="4.35"/><circle cx="180.5" cy="538.3" r="4.35"/><circle cx="212.1" cy="526.8" r="4.35"/><circle cx="176.7" cy="571.5" r="4.35"/><circle cx="221.6" cy="506.4" r="4.35"/><circle cx="182.5" cy="572.9" r="4.35"/><circle cx="220.9" cy="504.7" r="4.35"/><circle cx="181.0" cy="571.1" r="4.35"/><circle cx="192.1" cy="544.6" r="4.35"/><circle cx="210.4" cy="538.6" r="4.35"/><circle cx="202.5" cy="556.5" r="4.35"/><circle cx="210.9" cy="532.7" r="4.35"/><circle cx="187.3" cy="528.1" r="4.35"/><circle cx="199.0" cy="539.6" r="4.35"/><circle cx="175.0" cy="548.5" r="4.35"/><circle cx="180.9" cy="559.9" r="4.35"/><circle cx="169.0" cy="565.2" r="4.35"/><circle cx="219.0" cy="519.2" r="4.35"/><circle cx="205.5" cy="498.8" r="4.35"/><circle cx="191.7" cy="521.5" r="4.35"/><circle cx="187.2" cy="563.5" r="4.35"/><circle cx="174.3" cy="572.5" r="4.35"/><circle cx="206.1" cy="544.1" r="4.35"/><circle cx="217.7" cy="528.7" r="4.35"/><circle cx="183.4" cy="539.3" r="4.35"/><circle cx="192.8" cy="547.8" r="4.35"/><circle cx="192.4" cy="530.9" r="4.35"/><circle cx="219.3" cy="508.4" r="4.35"/><circle cx="182.8" cy="541.5" r="4.35"/><circle cx="230.1" cy="505.7" r="4.35"/><circle cx="221.1" cy="511.2" r="4.35"/><circle cx="223.6" cy="503.0" r="4.35"/><circle cx="214.5" cy="527.8" r="4.35"/><circle cx="186.1" cy="529.3" r="4.35"/><circle cx="221.0" cy="491.8" r="4.35"/><circle cx="179.9" cy="549.7" r="4.35"/><circle cx="186.3" cy="547.2" r="4.35"/><circle cx="166.8" cy="561.3" r="4.35"/><circle cx="213.2" cy="512.0" r="4.35"/><circle cx="185.6" cy="543.2" r="4.35"/><circle cx="186.6" cy="537.7" r="4.35"/><circle cx="222.9" cy="513.4" r="4.35"/><circle cx="211.2" cy="524.1" r="4.35"/><circle cx="201.4" cy="544.8" r="4.35"/><circle cx="209.0" cy="517.9" r="4.35"/><circle cx="218.8" cy="530.6" r="4.35"/><circle cx="196.8" cy="535.5" r="4.35"/><circle cx="207.8" cy="533.7" r="4.35"/><circle cx="200.1" cy="523.3" r="4.35"/><circle cx="213.2" cy="523.6" r="4.35"/><circle cx="198.4" cy="505.9" r="4.35"/><circle cx="222.4" cy="520.7" r="4.35"/><circle cx="211.0" cy="548.1" r="4.35"/><circle cx="194.2" cy="551.7" r="4.35"/><circle cx="215.7" cy="506.5" r="4.35"/><circle cx="221.4" cy="507.3" r="4.35"/><circle cx="173.1" cy="555.3" r="4.35"/><circle cx="171.5" cy="558.6" r="4.35"/><circle cx="182.5" cy="548.7" r="4.35"/><circle cx="173.5" cy="565.0" r="4.35"/><circle cx="229.7" cy="517.8" r="4.35"/><circle cx="229.4" cy="503.0" r="4.35"/><circle cx="167.8" cy="591.2" r="4.35"/><circle cx="181.0" cy="538.0" r="4.35"/><circle cx="179.6" cy="558.4" r="4.35"/><circle cx="215.9" cy="529.6" r="4.35"/><circle cx="186.8" cy="537.6" r="4.35"/><circle cx="181.9" cy="535.2" r="4.35"/><circle cx="228.9" cy="494.0" r="4.35"/><circle cx="231.1" cy="497.9" r="4.35"/><circle cx="243.2" cy="517.4" r="4.35"/><circle cx="240.0" cy="478.3" r="4.35"/><circle cx="259.0" cy="482.0" r="4.35"/><circle cx="225.3" cy="506.0" r="4.35"/><circle cx="262.2" cy="456.9" r="4.35"/><circle cx="267.0" cy="465.7" r="4.35"/><circle cx="244.2" cy="500.3" r="4.35"/><circle cx="268.9" cy="450.0" r="4.35"/><circle cx="234.6" cy="499.5" r="4.35"/><circle cx="256.7" cy="488.0" r="4.35"/><circle cx="236.5" cy="499.4" r="4.35"/><circle cx="244.4" cy="493.7" r="4.35"/><circle cx="252.4" cy="485.0" r="4.35"/><circle cx="273.5" cy="460.0" r="4.35"/><circle cx="246.1" cy="496.6" r="4.35"/><circle cx="229.9" cy="504.7" r="4.35"/><circle cx="233.5" cy="517.2" r="4.35"/><circle cx="252.8" cy="493.9" r="4.35"/><circle cx="244.1" cy="498.4" r="4.35"/><circle cx="240.6" cy="519.1" r="4.35"/><circle cx="241.6" cy="464.2" r="4.35"/><circle cx="250.4" cy="490.2" r="4.35"/><circle cx="245.2" cy="486.1" r="4.35"/><circle cx="235.2" cy="503.3" r="4.35"/><circle cx="242.6" cy="479.9" r="4.35"/><circle cx="272.8" cy="463.7" r="4.35"/><circle cx="258.4" cy="464.1" r="4.35"/><circle cx="245.0" cy="506.1" r="4.35"/><circle cx="228.4" cy="506.5" r="4.35"/><circle cx="259.1" cy="466.5" r="4.35"/><circle cx="266.2" cy="461.4" r="4.35"/><circle cx="275.4" cy="461.3" r="4.35"/><circle cx="247.1" cy="492.9" r="4.35"/><circle cx="239.2" cy="489.1" r="4.35"/><circle cx="234.7" cy="506.1" r="4.35"/><circle cx="257.4" cy="486.7" r="4.35"/><circle cx="249.2" cy="496.6" r="4.35"/><circle cx="273.9" cy="486.8" r="4.35"/><circle cx="244.8" cy="480.9" r="4.35"/><circle cx="248.5" cy="497.2" r="4.35"/></g>
<g fill="none" stroke="#E21F2A" stroke-width="2.4"><circle cx="305.8" cy="507.4" r="4.35"/></g>
<line x1="56" y1="675.5" x2="349.3" y2="382.6" stroke="#262626" stroke-width="3.5" stroke-dasharray="12 11.6"/>
<text transform="translate(56.00 697.90) scale(.99 1)" text-anchor="middle" font-size="15.0" fill="#1c1c1c">1</text>
<text transform="translate(49.60 681.95) scale(.99 1)" text-anchor="end" font-size="15.0" fill="#1c1c1c">1</text>
<text transform="translate(129.32 697.90) scale(.99 1)" text-anchor="middle" font-size="15.0" fill="#1c1c1c">1.5</text>
<text transform="translate(49.60 608.73) scale(.99 1)" text-anchor="end" font-size="15.0" fill="#1c1c1c">1.5</text>
<text transform="translate(202.65 697.90) scale(.99 1)" text-anchor="middle" font-size="15.0" fill="#1c1c1c">2</text>
<text transform="translate(49.60 535.50) scale(.99 1)" text-anchor="end" font-size="15.0" fill="#1c1c1c">2</text>
<text transform="translate(275.98 697.90) scale(.99 1)" text-anchor="middle" font-size="15.0" fill="#1c1c1c">2.5</text>
<text transform="translate(49.60 462.28) scale(.99 1)" text-anchor="end" font-size="15.0" fill="#1c1c1c">2.5</text>
<text transform="translate(349.30 697.90) scale(.99 1)" text-anchor="middle" font-size="15.0" fill="#1c1c1c">3</text>
<text transform="translate(49.60 389.05) scale(.99 1)" text-anchor="end" font-size="15.0" fill="#1c1c1c">3</text>
<rect x="67.2" y="394.6" width="226.80" height="67.40" fill="#fff" stroke="#222" stroke-width="1.2"/>
<circle cx="94.0" cy="407.4" r="4.5" fill="none" stroke="#0072BD" stroke-width="2.4"/>
<text x="119.8" y="413.8" font-size="17.6" letter-spacing="0.2" fill="#1a1a1a">model error (scuffing)</text>
<circle cx="94.0" cy="428.4" r="4.5" fill="none" stroke="#E21F2A" stroke-width="2.4"/>
<text x="119.8" y="434.8" font-size="17.6" letter-spacing="0.2" fill="#1a1a1a">outlier (scuffing)</text>
<line x1="71.4" y1="449.5" x2="107.4" y2="449.5" stroke="#262626" stroke-width="3.3" stroke-dasharray="12.1 11.7"/>
<text x="119.8" y="455.9" font-size="17.6" letter-spacing="0.2" fill="#1a1a1a">ideal model (scuffing)</text>
<text x="0" y="394.4" font-size="28" font-weight="bold" fill="#000">b</text>
<text font-size="17.9" fill="#262626"><tspan x="132.6" y="719.3">S</tspan><tspan x="145.1" y="727.6" font-size="14.3">B</tspan><tspan x="154.7" y="719.3" letter-spacing="0.07" xml:space="preserve"> [-] (simulation)</tspan></text>
<g transform="translate(13.1,600.5) rotate(-90)"><text font-size="17.9" fill="#262626"><tspan x="-1.2" y="0">S</tspan><tspan x="12.6" y="8.5" font-size="14.3">B</tspan><tspan x="21.9" y="0" letter-spacing="0" xml:space="preserve"> [-] (regression)</tspan></text></g>
<line x1="104.78" y1="743.8" x2="104.78" y2="1037.5" stroke="#262626" stroke-opacity=".23" stroke-width="1"/>
<line x1="56" y1="988.55" x2="348.7" y2="988.55" stroke="#262626" stroke-opacity=".23" stroke-width="1"/>
<line x1="153.57" y1="743.8" x2="153.57" y2="1037.5" stroke="#262626" stroke-opacity=".23" stroke-width="1"/>
<line x1="56" y1="939.60" x2="348.7" y2="939.60" stroke="#262626" stroke-opacity=".23" stroke-width="1"/>
<line x1="202.35" y1="743.8" x2="202.35" y2="1037.5" stroke="#262626" stroke-opacity=".23" stroke-width="1"/>
<line x1="56" y1="890.65" x2="348.7" y2="890.65" stroke="#262626" stroke-opacity=".23" stroke-width="1"/>
<line x1="251.13" y1="743.8" x2="251.13" y2="1037.5" stroke="#262626" stroke-opacity=".23" stroke-width="1"/>
<line x1="56" y1="841.70" x2="348.7" y2="841.70" stroke="#262626" stroke-opacity=".23" stroke-width="1"/>
<line x1="299.92" y1="743.8" x2="299.92" y2="1037.5" stroke="#262626" stroke-opacity=".23" stroke-width="1"/>
<line x1="56" y1="792.75" x2="348.7" y2="792.75" stroke="#262626" stroke-opacity=".23" stroke-width="1"/>
<rect x="56" y="743.8" width="292.70" height="293.70" fill="none" stroke="#262626" stroke-width="1.3"/>
<path d="M104.78 1037.5v-3.2M104.78 743.8v3.2M56 988.55h3.2M348.7 988.55h-3.2" stroke="#262626" stroke-width="1.1" fill="none"/>
<path d="M153.57 1037.5v-3.2M153.57 743.8v3.2M56 939.60h3.2M348.7 939.60h-3.2" stroke="#262626" stroke-width="1.1" fill="none"/>
<path d="M202.35 1037.5v-3.2M202.35 743.8v3.2M56 890.65h3.2M348.7 890.65h-3.2" stroke="#262626" stroke-width="1.1" fill="none"/>
<path d="M251.13 1037.5v-3.2M251.13 743.8v3.2M56 841.70h3.2M348.7 841.70h-3.2" stroke="#262626" stroke-width="1.1" fill="none"/>
<path d="M299.92 1037.5v-3.2M299.92 743.8v3.2M56 792.75h3.2M348.7 792.75h-3.2" stroke="#262626" stroke-width="1.1" fill="none"/>
<g fill="none" stroke="#0072BD" stroke-width="2.4"><circle cx="238.0" cy="847.5" r="4.35"/><circle cx="232.8" cy="860.2" r="4.35"/><circle cx="242.0" cy="858.7" r="4.35"/><circle cx="239.8" cy="864.6" r="4.35"/><circle cx="249.0" cy="865.7" r="4.35"/><circle cx="221.2" cy="865.3" r="4.35"/><circle cx="232.8" cy="874.5" r="4.35"/><circle cx="205.8" cy="875.5" r="4.35"/><circle cx="197.1" cy="874.5" r="4.35"/><circle cx="192.7" cy="879.9" r="4.35"/><circle cx="196.0" cy="878.8" r="4.35"/><circle cx="222.3" cy="879.9" r="4.35"/><circle cx="217.9" cy="883.2" r="4.35"/><circle cx="225.5" cy="887.6" r="4.35"/><circle cx="232.8" cy="894.2" r="4.35"/><circle cx="214.2" cy="893.7" r="4.35"/><circle cx="202.6" cy="888.7" r="4.35"/><circle cx="201.5" cy="892.0" r="4.35"/><circle cx="190.1" cy="890.9" r="4.35"/><circle cx="190.1" cy="895.2" r="4.35"/><circle cx="174.5" cy="899.0" r="4.35"/><circle cx="209.6" cy="904.7" r="4.35"/><circle cx="197.1" cy="905.1" r="4.35"/><circle cx="182.8" cy="904.0" r="4.35"/><circle cx="168.6" cy="908.4" r="4.35"/><circle cx="191.6" cy="924.8" r="4.35"/><circle cx="190.5" cy="928.1" r="4.35"/><circle cx="182.4" cy="944.1" r="4.35"/><circle cx="174.1" cy="935.8" r="4.35"/><circle cx="173.9" cy="898.5" r="4.35"/><circle cx="151.2" cy="916.9" r="4.35"/><circle cx="131.9" cy="939.7" r="4.35"/><circle cx="146.8" cy="927.4" r="4.35"/><circle cx="167.8" cy="907.3" r="4.35"/><circle cx="189.7" cy="892.4" r="4.35"/><circle cx="192.3" cy="880.1" r="4.35"/><circle cx="196.7" cy="874.0" r="4.35"/><circle cx="205.5" cy="876.6" r="4.35"/><circle cx="220.4" cy="865.3" r="4.35"/><circle cx="113.5" cy="951.1" r="4.35"/><circle cx="182.2" cy="943.7" r="4.35"/><circle cx="191.5" cy="926.6" r="4.35"/><circle cx="190.6" cy="924.8" r="4.35"/><circle cx="209.9" cy="904.7" r="4.35"/><circle cx="214.2" cy="894.2" r="4.35"/><circle cx="200.2" cy="904.7" r="4.35"/><circle cx="197.6" cy="905.6" r="4.35"/><circle cx="174.8" cy="935.3" r="4.35"/><circle cx="166.1" cy="951.1" r="4.35"/><circle cx="159.9" cy="964.2" r="4.35"/><circle cx="152.0" cy="974.7" r="4.35"/><circle cx="224.8" cy="887.2" r="4.35"/><circle cx="222.1" cy="879.3" r="4.35"/><circle cx="202.0" cy="889.8" r="4.35"/><circle cx="70.1" cy="991.8" r="4.35"/><circle cx="104.6" cy="1011.1" r="4.35"/><circle cx="78.9" cy="1028.0" r="4.35"/><circle cx="67.7" cy="1032.8" r="4.35"/><circle cx="56.4" cy="1024.7" r="4.35"/><circle cx="62.0" cy="1015.1" r="4.35"/><circle cx="70.0" cy="1016.7" r="4.35"/><circle cx="88.5" cy="1018.3" r="4.35"/><circle cx="93.0" cy="1019.1" r="4.35"/><circle cx="112.6" cy="953.3" r="4.35"/><circle cx="97.4" cy="966.9" r="4.35"/><circle cx="131.1" cy="939.6" r="4.35"/><circle cx="152.3" cy="975.0" r="4.35"/><circle cx="90.1" cy="979.8" r="4.35"/><circle cx="70.0" cy="999.9" r="4.35"/><circle cx="62.3" cy="1031.9" r="4.35"/><circle cx="76.7" cy="1023.7" r="4.35"/><circle cx="60.5" cy="1028.5" r="4.35"/><circle cx="61.5" cy="1023.7" r="4.35"/><circle cx="73.9" cy="1009.0" r="4.35"/><circle cx="61.2" cy="1021.3" r="4.35"/><circle cx="95.4" cy="987.6" r="4.35"/><circle cx="66.5" cy="1024.9" r="4.35"/><circle cx="108.3" cy="977.0" r="4.35"/><circle cx="105.3" cy="979.1" r="4.35"/><circle cx="102.1" cy="1004.7" r="4.35"/><circle cx="112.1" cy="976.4" r="4.35"/><circle cx="107.2" cy="990.1" r="4.35"/><circle cx="89.5" cy="1000.6" r="4.35"/><circle cx="86.7" cy="1015.7" r="4.35"/><circle cx="83.5" cy="1014.2" r="4.35"/><circle cx="71.5" cy="1015.6" r="4.35"/><circle cx="105.7" cy="976.6" r="4.35"/><circle cx="99.5" cy="1011.4" r="4.35"/><circle cx="92.8" cy="997.7" r="4.35"/><circle cx="98.8" cy="996.6" r="4.35"/><circle cx="87.4" cy="1000.3" r="4.35"/><circle cx="91.3" cy="993.6" r="4.35"/><circle cx="78.1" cy="1024.6" r="4.35"/><circle cx="85.1" cy="1002.2" r="4.35"/><circle cx="72.1" cy="1025.2" r="4.35"/><circle cx="77.3" cy="1012.8" r="4.35"/><circle cx="75.2" cy="1017.7" r="4.35"/><circle cx="97.5" cy="990.2" r="4.35"/><circle cx="112.3" cy="989.5" r="4.35"/><circle cx="111.3" cy="969.6" r="4.35"/><circle cx="67.9" cy="1012.1" r="4.35"/><circle cx="106.6" cy="970.6" r="4.35"/><circle cx="96.9" cy="988.3" r="4.35"/><circle cx="108.1" cy="974.2" r="4.35"/><circle cx="109.0" cy="979.3" r="4.35"/><circle cx="107.4" cy="988.9" r="4.35"/><circle cx="84.0" cy="1007.5" r="4.35"/><circle cx="113.1" cy="982.2" r="4.35"/><circle cx="95.2" cy="996.3" r="4.35"/><circle cx="95.9" cy="1000.9" r="4.35"/><circle cx="94.1" cy="1003.7" r="4.35"/><circle cx="101.3" cy="993.9" r="4.35"/><circle cx="82.4" cy="1009.6" r="4.35"/><circle cx="99.1" cy="985.9" r="4.35"/><circle cx="71.2" cy="1018.7" r="4.35"/><circle cx="97.2" cy="989.8" r="4.35"/><circle cx="92.9" cy="1000.1" r="4.35"/><circle cx="87.2" cy="1004.0" r="4.35"/><circle cx="82.5" cy="1007.4" r="4.35"/><circle cx="114.4" cy="975.5" r="4.35"/><circle cx="71.7" cy="1021.2" r="4.35"/><circle cx="94.9" cy="988.6" r="4.35"/><circle cx="69.5" cy="1029.7" r="4.35"/><circle cx="106.5" cy="982.3" r="4.35"/><circle cx="66.0" cy="1030.0" r="4.35"/><circle cx="113.1" cy="967.9" r="4.35"/><circle cx="91.0" cy="1013.1" r="4.35"/><circle cx="80.2" cy="1008.0" r="4.35"/><circle cx="101.8" cy="988.8" r="4.35"/><circle cx="78.4" cy="1019.4" r="4.35"/><circle cx="78.4" cy="1028.7" r="4.35"/><circle cx="94.4" cy="1000.3" r="4.35"/><circle cx="79.8" cy="1005.2" r="4.35"/><circle cx="75.7" cy="1016.3" r="4.35"/><circle cx="85.2" cy="1003.2" r="4.35"/><circle cx="70.0" cy="1019.9" r="4.35"/><circle cx="103.5" cy="983.0" r="4.35"/><circle cx="92.8" cy="987.7" r="4.35"/><circle cx="82.0" cy="1010.9" r="4.35"/><circle cx="72.4" cy="1008.4" r="4.35"/><circle cx="107.9" cy="969.3" r="4.35"/><circle cx="76.4" cy="1002.9" r="4.35"/><circle cx="80.6" cy="1011.8" r="4.35"/><circle cx="72.0" cy="1016.9" r="4.35"/><circle cx="83.4" cy="1024.9" r="4.35"/><circle cx="114.0" cy="969.5" r="4.35"/><circle cx="67.9" cy="1027.4" r="4.35"/><circle cx="105.0" cy="986.5" r="4.35"/><circle cx="81.5" cy="999.8" r="4.35"/><circle cx="71.9" cy="1025.9" r="4.35"/><circle cx="66.0" cy="1024.3" r="4.35"/><circle cx="73.1" cy="998.7" r="4.35"/><circle cx="89.1" cy="1007.3" r="4.35"/><circle cx="143.9" cy="943.5" r="4.35"/><circle cx="115.2" cy="983.5" r="4.35"/><circle cx="150.4" cy="961.8" r="4.35"/><circle cx="130.1" cy="953.9" r="4.35"/><circle cx="132.7" cy="968.5" r="4.35"/><circle cx="135.1" cy="946.7" r="4.35"/><circle cx="110.4" cy="1006.1" r="4.35"/><circle cx="111.5" cy="1004.8" r="4.35"/><circle cx="130.8" cy="968.9" r="4.35"/><circle cx="119.4" cy="966.2" r="4.35"/><circle cx="109.0" cy="988.6" r="4.35"/><circle cx="107.3" cy="969.4" r="4.35"/><circle cx="110.0" cy="981.7" r="4.35"/><circle cx="139.7" cy="929.6" r="4.35"/><circle cx="144.3" cy="976.7" r="4.35"/><circle cx="125.5" cy="985.7" r="4.35"/><circle cx="139.7" cy="970.9" r="4.35"/><circle cx="119.0" cy="975.9" r="4.35"/><circle cx="119.8" cy="981.0" r="4.35"/><circle cx="153.4" cy="950.9" r="4.35"/><circle cx="143.1" cy="950.4" r="4.35"/><circle cx="126.7" cy="965.6" r="4.35"/><circle cx="117.4" cy="977.8" r="4.35"/><circle cx="121.0" cy="966.1" r="4.35"/><circle cx="146.3" cy="952.3" r="4.35"/><circle cx="146.4" cy="974.6" r="4.35"/><circle cx="141.9" cy="934.5" r="4.35"/><circle cx="128.4" cy="967.8" r="4.35"/><circle cx="148.8" cy="933.3" r="4.35"/><circle cx="131.0" cy="960.3" r="4.35"/><circle cx="128.0" cy="956.5" r="4.35"/><circle cx="114.1" cy="984.0" r="4.35"/><circle cx="144.8" cy="951.7" r="4.35"/><circle cx="113.5" cy="969.3" r="4.35"/><circle cx="119.8" cy="966.0" r="4.35"/><circle cx="148.0" cy="961.4" r="4.35"/><circle cx="145.5" cy="949.4" r="4.35"/><circle cx="115.2" cy="980.5" r="4.35"/><circle cx="125.7" cy="986.5" r="4.35"/><circle cx="151.6" cy="920.4" r="4.35"/><circle cx="111.8" cy="980.3" r="4.35"/><circle cx="145.7" cy="947.2" r="4.35"/><circle cx="129.2" cy="962.8" r="4.35"/><circle cx="149.9" cy="945.8" r="4.35"/><circle cx="134.4" cy="947.2" r="4.35"/><circle cx="116.7" cy="980.2" r="4.35"/><circle cx="126.7" cy="968.8" r="4.35"/><circle cx="141.8" cy="957.8" r="4.35"/><circle cx="107.3" cy="981.0" r="4.35"/><circle cx="139.0" cy="979.6" r="4.35"/><circle cx="140.9" cy="942.8" r="4.35"/><circle cx="109.7" cy="962.2" r="4.35"/><circle cx="144.6" cy="964.5" r="4.35"/><circle cx="145.3" cy="957.7" r="4.35"/><circle cx="137.3" cy="974.9" r="4.35"/><circle cx="133.6" cy="961.9" r="4.35"/><circle cx="140.2" cy="948.7" r="4.35"/><circle cx="133.9" cy="945.5" r="4.35"/><circle cx="134.5" cy="954.8" r="4.35"/><circle cx="129.7" cy="961.7" r="4.35"/><circle cx="123.4" cy="995.6" r="4.35"/><circle cx="144.5" cy="965.9" r="4.35"/><circle cx="125.0" cy="970.2" r="4.35"/><circle cx="150.3" cy="970.7" r="4.35"/><circle cx="121.3" cy="964.0" r="4.35"/><circle cx="137.6" cy="942.4" r="4.35"/><circle cx="123.1" cy="981.4" r="4.35"/><circle cx="108.6" cy="998.7" r="4.35"/><circle cx="144.5" cy="949.0" r="4.35"/><circle cx="143.0" cy="939.4" r="4.35"/><circle cx="124.8" cy="971.5" r="4.35"/><circle cx="132.3" cy="962.9" r="4.35"/><circle cx="115.3" cy="984.8" r="4.35"/><circle cx="111.9" cy="987.9" r="4.35"/><circle cx="152.0" cy="934.3" r="4.35"/><circle cx="114.9" cy="971.4" r="4.35"/><circle cx="114.7" cy="984.5" r="4.35"/><circle cx="152.3" cy="937.9" r="4.35"/><circle cx="111.1" cy="981.2" r="4.35"/><circle cx="108.0" cy="993.4" r="4.35"/><circle cx="112.5" cy="977.4" r="4.35"/><circle cx="105.5" cy="990.9" r="4.35"/><circle cx="116.1" cy="982.7" r="4.35"/><circle cx="132.4" cy="950.0" r="4.35"/><circle cx="139.4" cy="967.3" r="4.35"/><circle cx="178.0" cy="908.4" r="4.35"/><circle cx="151.4" cy="963.8" r="4.35"/><circle cx="146.4" cy="957.0" r="4.35"/><circle cx="169.2" cy="933.7" r="4.35"/><circle cx="182.0" cy="902.7" r="4.35"/><circle cx="164.6" cy="912.2" r="4.35"/><circle cx="164.4" cy="928.4" r="4.35"/><circle cx="172.1" cy="911.5" r="4.35"/><circle cx="170.8" cy="914.3" r="4.35"/><circle cx="178.7" cy="919.6" r="4.35"/><circle cx="148.5" cy="948.7" r="4.35"/><circle cx="185.6" cy="913.1" r="4.35"/><circle cx="190.9" cy="902.7" r="4.35"/><circle cx="154.5" cy="917.3" r="4.35"/><circle cx="158.7" cy="924.3" r="4.35"/><circle cx="148.9" cy="936.6" r="4.35"/><circle cx="178.2" cy="925.8" r="4.35"/><circle cx="178.4" cy="920.2" r="4.35"/><circle cx="155.2" cy="943.5" r="4.35"/><circle cx="143.9" cy="939.6" r="4.35"/><circle cx="187.1" cy="901.4" r="4.35"/><circle cx="182.7" cy="907.5" r="4.35"/><circle cx="183.7" cy="921.0" r="4.35"/><circle cx="150.6" cy="938.6" r="4.35"/><circle cx="143.9" cy="958.0" r="4.35"/><circle cx="151.2" cy="943.1" r="4.35"/><circle cx="188.0" cy="894.0" r="4.35"/><circle cx="180.5" cy="911.3" r="4.35"/><circle cx="180.2" cy="897.7" r="4.35"/><circle cx="171.3" cy="909.8" r="4.35"/><circle cx="174.5" cy="898.8" r="4.35"/><circle cx="173.0" cy="927.4" r="4.35"/><circle cx="181.4" cy="926.6" r="4.35"/><circle cx="183.7" cy="908.6" r="4.35"/><circle cx="174.0" cy="920.8" r="4.35"/><circle cx="182.3" cy="909.1" r="4.35"/><circle cx="160.4" cy="941.5" r="4.35"/><circle cx="170.9" cy="918.0" r="4.35"/><circle cx="163.4" cy="921.8" r="4.35"/><circle cx="171.0" cy="935.7" r="4.35"/><circle cx="182.0" cy="924.6" r="4.35"/><circle cx="180.4" cy="907.3" r="4.35"/><circle cx="179.1" cy="915.0" r="4.35"/><circle cx="171.0" cy="946.8" r="4.35"/><circle cx="170.9" cy="918.9" r="4.35"/><circle cx="165.0" cy="920.0" r="4.35"/><circle cx="168.1" cy="922.2" r="4.35"/><circle cx="160.9" cy="934.3" r="4.35"/><circle cx="179.9" cy="935.2" r="4.35"/><circle cx="151.6" cy="935.7" r="4.35"/><circle cx="181.4" cy="925.5" r="4.35"/><circle cx="146.6" cy="940.2" r="4.35"/><circle cx="163.5" cy="923.4" r="4.35"/><circle cx="171.3" cy="939.9" r="4.35"/><circle cx="164.4" cy="911.0" r="4.35"/><circle cx="165.6" cy="923.1" r="4.35"/><circle cx="179.1" cy="923.0" r="4.35"/><circle cx="186.5" cy="914.3" r="4.35"/><circle cx="150.3" cy="938.1" r="4.35"/><circle cx="191.1" cy="903.2" r="4.35"/><circle cx="197.2" cy="917.4" r="4.35"/><circle cx="195.3" cy="890.3" r="4.35"/><circle cx="195.2" cy="881.5" r="4.35"/><circle cx="198.4" cy="888.2" r="4.35"/><circle cx="188.7" cy="896.6" r="4.35"/><circle cx="205.6" cy="880.6" r="4.35"/></g>
<g fill="none" stroke="#E21F2A" stroke-width="2.4"><circle cx="87.2" cy="930.9" r="4.35"/><circle cx="260.1" cy="884.7" r="4.35"/><circle cx="220.1" cy="927.0" r="4.35"/></g>
<line x1="56" y1="1037.5" x2="348.7" y2="743.8" stroke="#262626" stroke-width="3.5" stroke-dasharray="12 11.6"/>
<text transform="translate(56.00 1059.20) scale(.99 1)" text-anchor="middle" font-size="15.0" fill="#1c1c1c">1</text>
<text transform="translate(49.60 1044.05) scale(.99 1)" text-anchor="end" font-size="15.0" fill="#1c1c1c">1</text>
<text transform="translate(104.78 1059.20) scale(.99 1)" text-anchor="middle" font-size="15.0" fill="#1c1c1c">1.1</text>
<text transform="translate(49.60 995.10) scale(.99 1)" text-anchor="end" font-size="15.0" fill="#1c1c1c">1.1</text>
<text transform="translate(153.57 1059.20) scale(.99 1)" text-anchor="middle" font-size="15.0" fill="#1c1c1c">1.2</text>
<text transform="translate(49.60 946.15) scale(.99 1)" text-anchor="end" font-size="15.0" fill="#1c1c1c">1.2</text>
<text transform="translate(202.35 1059.20) scale(.99 1)" text-anchor="middle" font-size="15.0" fill="#1c1c1c">1.3</text>
<text transform="translate(49.60 897.20) scale(.99 1)" text-anchor="end" font-size="15.0" fill="#1c1c1c">1.3</text>
<text transform="translate(251.13 1059.20) scale(.99 1)" text-anchor="middle" font-size="15.0" fill="#1c1c1c">1.4</text>
<text transform="translate(49.60 848.25) scale(.99 1)" text-anchor="end" font-size="15.0" fill="#1c1c1c">1.4</text>
<text transform="translate(299.92 1059.20) scale(.99 1)" text-anchor="middle" font-size="15.0" fill="#1c1c1c">1.5</text>
<text transform="translate(49.60 799.30) scale(.99 1)" text-anchor="end" font-size="15.0" fill="#1c1c1c">1.5</text>
<text transform="translate(348.70 1059.20) scale(.99 1)" text-anchor="middle" font-size="15.0" fill="#1c1c1c">1.6</text>
<text transform="translate(49.60 750.35) scale(.99 1)" text-anchor="end" font-size="15.0" fill="#1c1c1c">1.6</text>
<rect x="67.4" y="755.8" width="267.60" height="67.20" fill="#fff" stroke="#222" stroke-width="1.2"/>
<circle cx="94.2" cy="768.9" r="4.5" fill="none" stroke="#0072BD" stroke-width="2.4"/>
<text x="119.5" y="775.3" font-size="17.6" letter-spacing="0.19" fill="#1a1a1a">model error (tooth flank fr.)</text>
<circle cx="94.2" cy="789.9" r="4.5" fill="none" stroke="#E21F2A" stroke-width="2.4"/>
<text x="119.5" y="796.3" font-size="17.6" letter-spacing="0.19" fill="#1a1a1a">outlier (tooth flank fr.)</text>
<line x1="71.6" y1="810.8" x2="107.6" y2="810.8" stroke="#262626" stroke-width="3.3" stroke-dasharray="12.1 11.7"/>
<text x="119.5" y="817.2" font-size="17.6" letter-spacing="0.19" fill="#1a1a1a">ideal model (tooth flank fr.)</text>
<text x="1" y="751.2" font-size="28" font-weight="bold" fill="#000">c</text>
<text font-size="17.9" fill="#262626"><tspan x="132.3" y="1080.8">S</tspan><tspan x="144.9" y="1089.3" font-size="14.3">A</tspan><tspan x="155.2" y="1080.8" letter-spacing="0.07" xml:space="preserve"> [-] (simulation)</tspan></text>
<g transform="translate(13.1,962.1) rotate(-90)"><text font-size="17.9" fill="#262626"><tspan x="-0.5" y="0">S</tspan><tspan x="12.1" y="8.5" font-size="14.3">A</tspan><tspan x="22.2" y="0" letter-spacing="0.03" xml:space="preserve"> [-] (regression)</tspan></text></g>
<line x1="154.80" y1="1107.3" x2="154.80" y2="1400.6" stroke="#262626" stroke-opacity=".23" stroke-width="1"/>
<line x1="57" y1="1302.83" x2="350.4" y2="1302.83" stroke="#262626" stroke-opacity=".23" stroke-width="1"/>
<line x1="252.60" y1="1107.3" x2="252.60" y2="1400.6" stroke="#262626" stroke-opacity=".23" stroke-width="1"/>
<line x1="57" y1="1205.07" x2="350.4" y2="1205.07" stroke="#262626" stroke-opacity=".23" stroke-width="1"/>
<rect x="57" y="1107.3" width="293.40" height="293.30" fill="none" stroke="#262626" stroke-width="1.1"/>
<path d="M154.80 1400.6v-3.2M154.80 1107.3v3.2M57 1302.83h3.2M350.4 1302.83h-3.2" stroke="#262626" stroke-width="1.1" fill="none"/>
<path d="M252.60 1400.6v-3.2M252.60 1107.3v3.2M57 1205.07h3.2M350.4 1205.07h-3.2" stroke="#262626" stroke-width="1.1" fill="none"/>
<g fill="none" stroke="#0072BD" stroke-width="2.4"><circle cx="81.3" cy="1384.7" r="4.35"/><circle cx="109.6" cy="1335.0" r="4.35"/><circle cx="116.1" cy="1331.5" r="4.35"/><circle cx="113.9" cy="1346.3" r="4.35"/><circle cx="125.5" cy="1339.8" r="4.35"/><circle cx="127.7" cy="1338.7" r="4.35"/><circle cx="132.1" cy="1331.0" r="4.35"/><circle cx="268.4" cy="1203.5" r="4.35"/><circle cx="260.3" cy="1205.0" r="4.35"/><circle cx="254.8" cy="1200.7" r="4.35"/><circle cx="249.3" cy="1198.5" r="4.35"/><circle cx="251.5" cy="1228.0" r="4.35"/><circle cx="133.8" cy="1326.3" r="4.35"/><circle cx="153.4" cy="1312.4" r="4.35"/><circle cx="137.7" cy="1320.3" r="4.35"/><circle cx="146.8" cy="1301.3" r="4.35"/><circle cx="138.4" cy="1321.6" r="4.35"/><circle cx="149.6" cy="1313.5" r="4.35"/><circle cx="134.1" cy="1321.4" r="4.35"/><circle cx="139.7" cy="1305.4" r="4.35"/><circle cx="137.4" cy="1317.4" r="4.35"/><circle cx="134.8" cy="1330.6" r="4.35"/><circle cx="144.3" cy="1315.2" r="4.35"/><circle cx="146.6" cy="1314.0" r="4.35"/><circle cx="134.2" cy="1324.7" r="4.35"/><circle cx="136.1" cy="1319.4" r="4.35"/><circle cx="154.3" cy="1316.3" r="4.35"/><circle cx="141.6" cy="1305.8" r="4.35"/><circle cx="145.6" cy="1305.8" r="4.35"/><circle cx="133.9" cy="1330.1" r="4.35"/><circle cx="145.2" cy="1315.0" r="4.35"/><circle cx="133.6" cy="1326.8" r="4.35"/><circle cx="151.9" cy="1309.6" r="4.35"/><circle cx="142.0" cy="1316.0" r="4.35"/><circle cx="166.7" cy="1288.7" r="4.35"/><circle cx="158.3" cy="1309.8" r="4.35"/><circle cx="210.1" cy="1242.4" r="4.35"/><circle cx="152.9" cy="1301.8" r="4.35"/><circle cx="204.5" cy="1246.0" r="4.35"/><circle cx="157.6" cy="1293.9" r="4.35"/><circle cx="185.7" cy="1277.0" r="4.35"/><circle cx="183.8" cy="1284.4" r="4.35"/><circle cx="186.0" cy="1283.1" r="4.35"/><circle cx="157.8" cy="1296.2" r="4.35"/><circle cx="185.2" cy="1271.7" r="4.35"/><circle cx="218.8" cy="1222.4" r="4.35"/><circle cx="155.7" cy="1294.4" r="4.35"/><circle cx="192.2" cy="1255.7" r="4.35"/><circle cx="152.3" cy="1311.9" r="4.35"/><circle cx="181.5" cy="1295.8" r="4.35"/><circle cx="176.0" cy="1300.8" r="4.35"/><circle cx="170.0" cy="1297.1" r="4.35"/><circle cx="172.8" cy="1281.1" r="4.35"/><circle cx="184.8" cy="1262.4" r="4.35"/><circle cx="169.4" cy="1290.7" r="4.35"/><circle cx="173.5" cy="1283.4" r="4.35"/><circle cx="222.0" cy="1242.4" r="4.35"/><circle cx="218.6" cy="1243.4" r="4.35"/><circle cx="176.8" cy="1281.6" r="4.35"/><circle cx="161.5" cy="1294.6" r="4.35"/><circle cx="165.3" cy="1290.9" r="4.35"/><circle cx="170.0" cy="1271.0" r="4.35"/><circle cx="168.9" cy="1304.8" r="4.35"/><circle cx="172.0" cy="1298.1" r="4.35"/><circle cx="206.0" cy="1259.9" r="4.35"/><circle cx="194.0" cy="1256.3" r="4.35"/><circle cx="219.1" cy="1238.9" r="4.35"/><circle cx="211.8" cy="1256.9" r="4.35"/><circle cx="177.4" cy="1297.3" r="4.35"/><circle cx="190.4" cy="1253.5" r="4.35"/><circle cx="206.9" cy="1259.1" r="4.35"/><circle cx="195.2" cy="1245.6" r="4.35"/><circle cx="168.8" cy="1280.8" r="4.35"/><circle cx="175.5" cy="1286.9" r="4.35"/><circle cx="169.9" cy="1283.9" r="4.35"/><circle cx="201.0" cy="1254.0" r="4.35"/><circle cx="161.1" cy="1297.9" r="4.35"/><circle cx="190.3" cy="1258.8" r="4.35"/><circle cx="178.4" cy="1278.5" r="4.35"/><circle cx="177.6" cy="1287.3" r="4.35"/><circle cx="181.6" cy="1272.6" r="4.35"/><circle cx="161.5" cy="1292.5" r="4.35"/><circle cx="203.4" cy="1247.3" r="4.35"/><circle cx="167.0" cy="1281.3" r="4.35"/><circle cx="197.7" cy="1265.2" r="4.35"/><circle cx="218.4" cy="1246.7" r="4.35"/><circle cx="198.4" cy="1262.5" r="4.35"/><circle cx="180.3" cy="1279.0" r="4.35"/><circle cx="170.1" cy="1307.2" r="4.35"/><circle cx="213.4" cy="1241.3" r="4.35"/><circle cx="155.4" cy="1311.6" r="4.35"/><circle cx="190.1" cy="1286.4" r="4.35"/><circle cx="157.9" cy="1294.5" r="4.35"/><circle cx="221.9" cy="1243.3" r="4.35"/><circle cx="214.2" cy="1234.8" r="4.35"/><circle cx="155.8" cy="1320.1" r="4.35"/><circle cx="208.3" cy="1251.7" r="4.35"/><circle cx="178.3" cy="1275.7" r="4.35"/><circle cx="193.5" cy="1255.5" r="4.35"/><circle cx="207.6" cy="1250.5" r="4.35"/><circle cx="186.7" cy="1278.8" r="4.35"/><circle cx="221.2" cy="1238.5" r="4.35"/><circle cx="168.8" cy="1294.8" r="4.35"/><circle cx="150.9" cy="1318.7" r="4.35"/><circle cx="223.0" cy="1233.1" r="4.35"/><circle cx="218.1" cy="1221.4" r="4.35"/><circle cx="216.1" cy="1237.0" r="4.35"/><circle cx="183.1" cy="1282.1" r="4.35"/><circle cx="175.9" cy="1280.6" r="4.35"/><circle cx="160.8" cy="1298.4" r="4.35"/><circle cx="220.1" cy="1233.7" r="4.35"/><circle cx="220.9" cy="1250.1" r="4.35"/><circle cx="188.8" cy="1264.9" r="4.35"/><circle cx="216.1" cy="1250.4" r="4.35"/><circle cx="155.9" cy="1312.9" r="4.35"/><circle cx="208.4" cy="1245.8" r="4.35"/><circle cx="181.5" cy="1286.5" r="4.35"/><circle cx="181.2" cy="1296.2" r="4.35"/><circle cx="165.3" cy="1276.3" r="4.35"/><circle cx="185.3" cy="1269.8" r="4.35"/><circle cx="179.0" cy="1283.8" r="4.35"/><circle cx="167.0" cy="1292.0" r="4.35"/><circle cx="168.0" cy="1291.0" r="4.35"/><circle cx="168.7" cy="1272.6" r="4.35"/><circle cx="157.4" cy="1293.6" r="4.35"/><circle cx="152.9" cy="1313.7" r="4.35"/><circle cx="199.8" cy="1263.5" r="4.35"/><circle cx="206.9" cy="1263.0" r="4.35"/><circle cx="181.6" cy="1274.6" r="4.35"/><circle cx="196.1" cy="1248.3" r="4.35"/><circle cx="201.8" cy="1253.2" r="4.35"/><circle cx="200.9" cy="1249.9" r="4.35"/><circle cx="178.7" cy="1287.5" r="4.35"/><circle cx="205.5" cy="1258.8" r="4.35"/><circle cx="176.1" cy="1298.5" r="4.35"/><circle cx="173.4" cy="1284.8" r="4.35"/><circle cx="163.6" cy="1297.8" r="4.35"/><circle cx="212.9" cy="1249.0" r="4.35"/><circle cx="170.8" cy="1278.9" r="4.35"/><circle cx="162.0" cy="1302.4" r="4.35"/><circle cx="188.6" cy="1273.9" r="4.35"/><circle cx="196.9" cy="1270.6" r="4.35"/><circle cx="177.6" cy="1275.7" r="4.35"/><circle cx="208.6" cy="1251.2" r="4.35"/><circle cx="152.6" cy="1309.0" r="4.35"/><circle cx="160.4" cy="1298.1" r="4.35"/><circle cx="193.5" cy="1258.8" r="4.35"/><circle cx="180.0" cy="1282.6" r="4.35"/><circle cx="185.3" cy="1279.4" r="4.35"/><circle cx="176.3" cy="1287.0" r="4.35"/><circle cx="212.7" cy="1253.3" r="4.35"/><circle cx="210.1" cy="1251.1" r="4.35"/><circle cx="223.2" cy="1236.6" r="4.35"/><circle cx="173.0" cy="1284.8" r="4.35"/><circle cx="215.9" cy="1239.9" r="4.35"/><circle cx="208.2" cy="1245.2" r="4.35"/><circle cx="159.2" cy="1295.7" r="4.35"/><circle cx="179.0" cy="1284.5" r="4.35"/><circle cx="193.9" cy="1253.2" r="4.35"/><circle cx="182.6" cy="1266.2" r="4.35"/><circle cx="206.6" cy="1251.5" r="4.35"/><circle cx="210.4" cy="1251.4" r="4.35"/><circle cx="210.3" cy="1247.5" r="4.35"/><circle cx="165.8" cy="1281.2" r="4.35"/><circle cx="189.9" cy="1268.5" r="4.35"/><circle cx="189.5" cy="1277.3" r="4.35"/><circle cx="160.4" cy="1290.1" r="4.35"/><circle cx="211.0" cy="1256.6" r="4.35"/><circle cx="156.7" cy="1301.8" r="4.35"/><circle cx="191.2" cy="1271.0" r="4.35"/><circle cx="167.6" cy="1287.5" r="4.35"/><circle cx="185.1" cy="1275.7" r="4.35"/><circle cx="185.0" cy="1275.8" r="4.35"/><circle cx="199.1" cy="1257.3" r="4.35"/><circle cx="221.2" cy="1249.0" r="4.35"/><circle cx="175.4" cy="1268.9" r="4.35"/><circle cx="170.7" cy="1306.7" r="4.35"/><circle cx="207.3" cy="1244.7" r="4.35"/><circle cx="196.7" cy="1252.6" r="4.35"/><circle cx="152.0" cy="1304.1" r="4.35"/><circle cx="155.4" cy="1307.6" r="4.35"/><circle cx="158.4" cy="1295.5" r="4.35"/><circle cx="187.9" cy="1266.5" r="4.35"/><circle cx="217.2" cy="1260.2" r="4.35"/><circle cx="181.7" cy="1267.1" r="4.35"/><circle cx="181.5" cy="1258.0" r="4.35"/><circle cx="175.7" cy="1277.8" r="4.35"/><circle cx="219.8" cy="1248.4" r="4.35"/><circle cx="201.6" cy="1252.1" r="4.35"/><circle cx="219.2" cy="1240.9" r="4.35"/><circle cx="190.1" cy="1270.7" r="4.35"/><circle cx="168.6" cy="1296.7" r="4.35"/><circle cx="172.4" cy="1275.5" r="4.35"/><circle cx="159.5" cy="1280.0" r="4.35"/><circle cx="168.5" cy="1293.9" r="4.35"/><circle cx="166.4" cy="1296.4" r="4.35"/><circle cx="169.2" cy="1289.1" r="4.35"/><circle cx="204.4" cy="1252.8" r="4.35"/><circle cx="198.6" cy="1266.6" r="4.35"/><circle cx="191.4" cy="1249.9" r="4.35"/><circle cx="166.8" cy="1285.5" r="4.35"/><circle cx="209.5" cy="1250.3" r="4.35"/><circle cx="210.0" cy="1231.8" r="4.35"/><circle cx="181.3" cy="1276.8" r="4.35"/><circle cx="187.2" cy="1262.3" r="4.35"/><circle cx="168.4" cy="1293.2" r="4.35"/><circle cx="154.5" cy="1296.8" r="4.35"/><circle cx="202.4" cy="1262.3" r="4.35"/><circle cx="197.3" cy="1242.2" r="4.35"/><circle cx="244.6" cy="1216.3" r="4.35"/><circle cx="230.3" cy="1222.2" r="4.35"/><circle cx="217.6" cy="1244.6" r="4.35"/><circle cx="234.7" cy="1205.6" r="4.35"/><circle cx="224.3" cy="1230.2" r="4.35"/><circle cx="227.6" cy="1232.7" r="4.35"/><circle cx="231.4" cy="1220.1" r="4.35"/><circle cx="240.1" cy="1210.8" r="4.35"/><circle cx="221.7" cy="1236.1" r="4.35"/><circle cx="245.4" cy="1221.3" r="4.35"/><circle cx="244.6" cy="1210.5" r="4.35"/><circle cx="226.3" cy="1238.3" r="4.35"/><circle cx="221.4" cy="1231.6" r="4.35"/><circle cx="236.9" cy="1223.8" r="4.35"/><circle cx="232.5" cy="1216.4" r="4.35"/><circle cx="239.0" cy="1220.1" r="4.35"/><circle cx="245.1" cy="1222.8" r="4.35"/><circle cx="244.9" cy="1201.5" r="4.35"/><circle cx="228.6" cy="1234.8" r="4.35"/><circle cx="225.4" cy="1227.0" r="4.35"/><circle cx="238.4" cy="1227.2" r="4.35"/><circle cx="226.4" cy="1233.1" r="4.35"/><circle cx="237.8" cy="1219.5" r="4.35"/><circle cx="223.1" cy="1248.5" r="4.35"/><circle cx="241.1" cy="1216.8" r="4.35"/><circle cx="244.9" cy="1216.6" r="4.35"/><circle cx="244.4" cy="1219.2" r="4.35"/><circle cx="215.3" cy="1259.1" r="4.35"/><circle cx="241.6" cy="1207.1" r="4.35"/><circle cx="233.3" cy="1221.7" r="4.35"/><circle cx="214.8" cy="1247.4" r="4.35"/><circle cx="223.3" cy="1233.0" r="4.35"/><circle cx="224.3" cy="1235.1" r="4.35"/><circle cx="230.4" cy="1223.5" r="4.35"/><circle cx="217.0" cy="1225.4" r="4.35"/><circle cx="216.3" cy="1240.8" r="4.35"/><circle cx="220.9" cy="1237.6" r="4.35"/><circle cx="227.1" cy="1226.0" r="4.35"/><circle cx="232.4" cy="1231.1" r="4.35"/><circle cx="240.2" cy="1229.6" r="4.35"/><circle cx="214.0" cy="1254.9" r="4.35"/><circle cx="231.5" cy="1211.0" r="4.35"/><circle cx="214.3" cy="1242.0" r="4.35"/><circle cx="216.6" cy="1252.1" r="4.35"/><circle cx="213.9" cy="1239.6" r="4.35"/></g>
<g fill="none" stroke="#E21F2A" stroke-width="2.4"><circle cx="115.3" cy="1385.8" r="4.35"/><circle cx="162.2" cy="1246.0" r="4.35"/><circle cx="236.6" cy="1253.9" r="4.35"/><circle cx="262.9" cy="1225.2" r="4.35"/></g>
<line x1="57" y1="1400.6" x2="350.4" y2="1107.3" stroke="#262626" stroke-width="3.5" stroke-dasharray="12 11.6"/>
<text transform="translate(57.00 1421.70) scale(.99 1)" text-anchor="middle" font-size="15.0" fill="#1c1c1c">1</text>
<text transform="translate(50.60 1407.30) scale(.99 1)" text-anchor="end" font-size="15.0" fill="#1c1c1c">1</text>
<text transform="translate(154.80 1421.70) scale(.99 1)" text-anchor="middle" font-size="15.0" fill="#1c1c1c">1.5</text>
<text transform="translate(50.60 1309.53) scale(.99 1)" text-anchor="end" font-size="15.0" fill="#1c1c1c">1.5</text>
<text transform="translate(252.60 1421.70) scale(.99 1)" text-anchor="middle" font-size="15.0" fill="#1c1c1c">2</text>
<text transform="translate(50.60 1211.77) scale(.99 1)" text-anchor="end" font-size="15.0" fill="#1c1c1c">2</text>
<text transform="translate(350.40 1421.70) scale(.99 1)" text-anchor="middle" font-size="15.0" fill="#1c1c1c">2.5</text>
<text transform="translate(50.60 1114.00) scale(.99 1)" text-anchor="end" font-size="15.0" fill="#1c1c1c">2.5</text>
<rect x="68.6" y="1119.4" width="258.80" height="68.00" fill="#fff" stroke="#222" stroke-width="1.2"/>
<circle cx="95.4" cy="1132.1" r="4.5" fill="none" stroke="#0072BD" stroke-width="2.4"/>
<text x="121.3" y="1138.5" font-size="17.6" letter-spacing="0.14" fill="#1a1a1a">model error (tooth break.)</text>
<circle cx="95.4" cy="1153.4" r="4.5" fill="none" stroke="#E21F2A" stroke-width="2.4"/>
<text x="121.3" y="1159.8" font-size="17.6" letter-spacing="0.14" fill="#1a1a1a">outlier (tooth break.)</text>
<line x1="72.8" y1="1174.9" x2="108.8" y2="1174.9" stroke="#262626" stroke-width="3.3" stroke-dasharray="12.1 11.7"/>
<text x="121.3" y="1181.3" font-size="17.6" letter-spacing="0.14" fill="#1a1a1a">ideal model (tooth break.)</text>
<text x="0" y="1117" font-size="28" font-weight="bold" fill="#000">d</text>
<text font-size="17.9" fill="#262626"><tspan x="134.5" y="1444.1">S</tspan><tspan x="146.9" y="1452.4" font-size="14.3">F</tspan><tspan x="155.9" y="1444.1" letter-spacing="0.07" xml:space="preserve"> [-] (simulation)</tspan></text>
<g transform="translate(13.8,1325.4) rotate(-90)"><text font-size="17.9" fill="#262626"><tspan x="1.0" y="0">S</tspan><tspan x="11.8" y="8.4" font-size="14.3">F</tspan><tspan x="21.2" y="0" letter-spacing="0.05" xml:space="preserve"> [-] (regression)</tspan></text></g>
<line x1="119.14" y1="1474.6" x2="119.14" y2="1762" stroke="#262626" stroke-opacity=".23" stroke-width="1"/>
<line x1="61.6" y1="1704.52" x2="349.3" y2="1704.52" stroke="#262626" stroke-opacity=".23" stroke-width="1"/>
<line x1="176.68" y1="1474.6" x2="176.68" y2="1762" stroke="#262626" stroke-opacity=".23" stroke-width="1"/>
<line x1="61.6" y1="1647.04" x2="349.3" y2="1647.04" stroke="#262626" stroke-opacity=".23" stroke-width="1"/>
<line x1="234.22" y1="1474.6" x2="234.22" y2="1762" stroke="#262626" stroke-opacity=".23" stroke-width="1"/>
<line x1="61.6" y1="1589.56" x2="349.3" y2="1589.56" stroke="#262626" stroke-opacity=".23" stroke-width="1"/>
<line x1="291.76" y1="1474.6" x2="291.76" y2="1762" stroke="#262626" stroke-opacity=".23" stroke-width="1"/>
<line x1="61.6" y1="1532.08" x2="349.3" y2="1532.08" stroke="#262626" stroke-opacity=".23" stroke-width="1"/>
<rect x="61.6" y="1474.6" width="287.70" height="287.40" fill="none" stroke="#262626" stroke-width="1.1"/>
<path d="M119.14 1762v-3.2M119.14 1474.6v3.2M61.6 1704.52h3.2M349.3 1704.52h-3.2" stroke="#262626" stroke-width="1.1" fill="none"/>
<path d="M176.68 1762v-3.2M176.68 1474.6v3.2M61.6 1647.04h3.2M349.3 1647.04h-3.2" stroke="#262626" stroke-width="1.1" fill="none"/>
<path d="M234.22 1762v-3.2M234.22 1474.6v3.2M61.6 1589.56h3.2M349.3 1589.56h-3.2" stroke="#262626" stroke-width="1.1" fill="none"/>
<path d="M291.76 1762v-3.2M291.76 1474.6v3.2M61.6 1532.08h3.2M349.3 1532.08h-3.2" stroke="#262626" stroke-width="1.1" fill="none"/>
<g fill="none" stroke="#0072BD" stroke-width="2.4"><circle cx="81.7" cy="1716.9" r="4.35"/><circle cx="95.3" cy="1698.7" r="4.35"/><circle cx="106.5" cy="1682.3" r="4.35"/><circle cx="116.8" cy="1676.3" r="4.35"/><circle cx="144.8" cy="1654.9" r="4.35"/><circle cx="137.6" cy="1668.0" r="4.35"/><circle cx="158.8" cy="1642.8" r="4.35"/><circle cx="172.6" cy="1636.3" r="4.35"/><circle cx="184.7" cy="1633.0" r="4.35"/><circle cx="193.4" cy="1643.9" r="4.35"/><circle cx="198.9" cy="1650.5" r="4.35"/><circle cx="128.8" cy="1709.6" r="4.35"/><circle cx="149.6" cy="1696.5" r="4.35"/><circle cx="115.7" cy="1741.4" r="4.35"/><circle cx="185.0" cy="1633.0" r="4.35"/><circle cx="193.2" cy="1644.7" r="4.35"/><circle cx="196.7" cy="1649.9" r="4.35"/><circle cx="201.1" cy="1649.9" r="4.35"/><circle cx="173.4" cy="1637.4" r="4.35"/><circle cx="80.8" cy="1722.7" r="4.35"/><circle cx="95.7" cy="1698.2" r="4.35"/><circle cx="106.2" cy="1682.4" r="4.35"/><circle cx="116.7" cy="1677.2" r="4.35"/><circle cx="95.7" cy="1707.8" r="4.35"/><circle cx="96.5" cy="1711.3" r="4.35"/><circle cx="137.7" cy="1667.5" r="4.35"/><circle cx="144.7" cy="1654.4" r="4.35"/><circle cx="127.2" cy="1679.8" r="4.35"/><circle cx="63.3" cy="1741.1" r="4.35"/><circle cx="65.0" cy="1745.5" r="4.35"/><circle cx="71.1" cy="1734.1" r="4.35"/><circle cx="74.6" cy="1728.8" r="4.35"/><circle cx="129.0" cy="1708.7" r="4.35"/><circle cx="150.0" cy="1696.4" r="4.35"/><circle cx="115.8" cy="1740.2" r="4.35"/><circle cx="114.1" cy="1735.8" r="4.35"/><circle cx="110.6" cy="1723.6" r="4.35"/><circle cx="112.3" cy="1728.0" r="4.35"/><circle cx="106.2" cy="1733.2" r="4.35"/><circle cx="100.0" cy="1739.3" r="4.35"/><circle cx="97.4" cy="1742.0" r="4.35"/><circle cx="93.9" cy="1750.7" r="4.35"/><circle cx="90.4" cy="1752.5" r="4.35"/><circle cx="82.5" cy="1756.9" r="4.35"/><circle cx="71.1" cy="1761.2" r="4.35"/><circle cx="171.9" cy="1669.3" r="4.35"/><circle cx="166.6" cy="1676.3" r="4.35"/><circle cx="159.6" cy="1690.3" r="4.35"/><circle cx="155.2" cy="1692.0" r="4.35"/><circle cx="88.3" cy="1723.3" r="4.35"/><circle cx="66.9" cy="1754.2" r="4.35"/><circle cx="88.9" cy="1720.1" r="4.35"/><circle cx="80.8" cy="1739.7" r="4.35"/><circle cx="85.4" cy="1731.8" r="4.35"/><circle cx="71.7" cy="1750.2" r="4.35"/><circle cx="81.5" cy="1741.3" r="4.35"/><circle cx="68.8" cy="1748.2" r="4.35"/><circle cx="85.5" cy="1728.5" r="4.35"/><circle cx="68.7" cy="1761.2" r="4.35"/><circle cx="87.2" cy="1739.2" r="4.35"/><circle cx="74.8" cy="1747.4" r="4.35"/><circle cx="73.9" cy="1740.9" r="4.35"/><circle cx="72.3" cy="1745.7" r="4.35"/><circle cx="77.8" cy="1735.8" r="4.35"/><circle cx="73.5" cy="1752.3" r="4.35"/><circle cx="85.6" cy="1729.0" r="4.35"/><circle cx="87.8" cy="1734.4" r="4.35"/><circle cx="63.2" cy="1756.2" r="4.35"/><circle cx="87.6" cy="1731.3" r="4.35"/><circle cx="81.0" cy="1741.9" r="4.35"/><circle cx="75.9" cy="1751.1" r="4.35"/><circle cx="86.2" cy="1733.1" r="4.35"/><circle cx="64.0" cy="1756.0" r="4.35"/><circle cx="75.2" cy="1742.4" r="4.35"/><circle cx="73.4" cy="1755.3" r="4.35"/><circle cx="76.0" cy="1739.2" r="4.35"/><circle cx="72.1" cy="1735.9" r="4.35"/><circle cx="69.0" cy="1757.3" r="4.35"/><circle cx="71.2" cy="1739.8" r="4.35"/><circle cx="86.7" cy="1738.7" r="4.35"/><circle cx="64.7" cy="1751.3" r="4.35"/><circle cx="86.8" cy="1733.1" r="4.35"/><circle cx="75.8" cy="1754.7" r="4.35"/><circle cx="87.3" cy="1726.1" r="4.35"/><circle cx="82.4" cy="1740.0" r="4.35"/><circle cx="86.4" cy="1733.7" r="4.35"/><circle cx="87.8" cy="1730.1" r="4.35"/><circle cx="75.5" cy="1740.2" r="4.35"/><circle cx="88.6" cy="1731.1" r="4.35"/><circle cx="85.1" cy="1736.2" r="4.35"/><circle cx="77.8" cy="1754.7" r="4.35"/><circle cx="78.5" cy="1740.9" r="4.35"/><circle cx="81.1" cy="1740.9" r="4.35"/><circle cx="63.0" cy="1756.2" r="4.35"/><circle cx="71.6" cy="1754.0" r="4.35"/><circle cx="71.9" cy="1754.9" r="4.35"/><circle cx="79.1" cy="1745.1" r="4.35"/><circle cx="71.0" cy="1759.1" r="4.35"/><circle cx="84.5" cy="1733.2" r="4.35"/><circle cx="86.4" cy="1748.2" r="4.35"/><circle cx="77.8" cy="1729.0" r="4.35"/><circle cx="80.4" cy="1727.6" r="4.35"/><circle cx="81.3" cy="1722.3" r="4.35"/><circle cx="84.5" cy="1718.7" r="4.35"/><circle cx="95.3" cy="1721.7" r="4.35"/><circle cx="95.0" cy="1736.4" r="4.35"/><circle cx="95.0" cy="1739.4" r="4.35"/><circle cx="95.5" cy="1737.0" r="4.35"/><circle cx="89.4" cy="1730.1" r="4.35"/><circle cx="104.0" cy="1709.8" r="4.35"/><circle cx="90.4" cy="1730.9" r="4.35"/><circle cx="95.4" cy="1738.3" r="4.35"/><circle cx="107.6" cy="1716.2" r="4.35"/><circle cx="95.6" cy="1728.1" r="4.35"/><circle cx="104.2" cy="1729.3" r="4.35"/><circle cx="107.9" cy="1720.4" r="4.35"/><circle cx="96.7" cy="1729.1" r="4.35"/><circle cx="105.2" cy="1721.4" r="4.35"/><circle cx="91.5" cy="1741.8" r="4.35"/><circle cx="102.4" cy="1734.5" r="4.35"/><circle cx="100.7" cy="1736.2" r="4.35"/><circle cx="96.1" cy="1733.4" r="4.35"/><circle cx="93.2" cy="1740.6" r="4.35"/><circle cx="90.6" cy="1738.3" r="4.35"/><circle cx="99.7" cy="1730.2" r="4.35"/><circle cx="103.5" cy="1721.6" r="4.35"/><circle cx="116.6" cy="1730.4" r="4.35"/><circle cx="121.2" cy="1710.0" r="4.35"/><circle cx="114.1" cy="1730.7" r="4.35"/><circle cx="102.4" cy="1736.0" r="4.35"/><circle cx="105.5" cy="1733.3" r="4.35"/><circle cx="119.6" cy="1721.3" r="4.35"/><circle cx="114.8" cy="1725.5" r="4.35"/><circle cx="113.7" cy="1729.8" r="4.35"/><circle cx="104.1" cy="1741.4" r="4.35"/><circle cx="115.4" cy="1734.7" r="4.35"/><circle cx="111.3" cy="1726.5" r="4.35"/><circle cx="103.0" cy="1740.6" r="4.35"/><circle cx="118.5" cy="1716.8" r="4.35"/><circle cx="108.8" cy="1730.1" r="4.35"/><circle cx="118.8" cy="1727.3" r="4.35"/><circle cx="110.5" cy="1725.0" r="4.35"/><circle cx="109.9" cy="1717.6" r="4.35"/><circle cx="113.3" cy="1703.0" r="4.35"/><circle cx="108.6" cy="1726.7" r="4.35"/><circle cx="124.2" cy="1684.6" r="4.35"/><circle cx="103.2" cy="1712.9" r="4.35"/><circle cx="105.7" cy="1712.8" r="4.35"/><circle cx="122.0" cy="1689.7" r="4.35"/><circle cx="124.7" cy="1682.0" r="4.35"/><circle cx="113.7" cy="1706.3" r="4.35"/><circle cx="109.1" cy="1708.3" r="4.35"/><circle cx="109.5" cy="1706.4" r="4.35"/><circle cx="119.3" cy="1706.9" r="4.35"/><circle cx="107.8" cy="1719.7" r="4.35"/><circle cx="100.9" cy="1727.9" r="4.35"/><circle cx="123.6" cy="1703.7" r="4.35"/><circle cx="124.1" cy="1690.8" r="4.35"/><circle cx="112.6" cy="1711.3" r="4.35"/><circle cx="102.5" cy="1716.2" r="4.35"/><circle cx="118.0" cy="1712.5" r="4.35"/><circle cx="116.1" cy="1702.2" r="4.35"/><circle cx="115.8" cy="1709.8" r="4.35"/><circle cx="109.1" cy="1693.4" r="4.35"/><circle cx="101.2" cy="1704.2" r="4.35"/><circle cx="99.6" cy="1732.1" r="4.35"/><circle cx="121.6" cy="1698.9" r="4.35"/><circle cx="112.7" cy="1711.6" r="4.35"/><circle cx="122.6" cy="1687.9" r="4.35"/><circle cx="103.0" cy="1704.5" r="4.35"/><circle cx="100.4" cy="1698.5" r="4.35"/><circle cx="115.0" cy="1711.6" r="4.35"/><circle cx="118.9" cy="1706.2" r="4.35"/><circle cx="113.8" cy="1698.5" r="4.35"/><circle cx="119.5" cy="1701.3" r="4.35"/><circle cx="114.2" cy="1713.0" r="4.35"/><circle cx="107.7" cy="1703.8" r="4.35"/><circle cx="118.4" cy="1715.7" r="4.35"/><circle cx="105.4" cy="1730.2" r="4.35"/><circle cx="107.0" cy="1694.5" r="4.35"/><circle cx="115.2" cy="1698.9" r="4.35"/><circle cx="102.6" cy="1712.7" r="4.35"/><circle cx="115.5" cy="1700.7" r="4.35"/><circle cx="98.2" cy="1707.2" r="4.35"/><circle cx="116.0" cy="1703.9" r="4.35"/><circle cx="103.0" cy="1721.2" r="4.35"/><circle cx="103.3" cy="1720.1" r="4.35"/><circle cx="102.9" cy="1714.8" r="4.35"/><circle cx="119.3" cy="1693.9" r="4.35"/><circle cx="111.1" cy="1708.8" r="4.35"/><circle cx="115.1" cy="1692.3" r="4.35"/><circle cx="111.4" cy="1710.0" r="4.35"/><circle cx="118.3" cy="1696.3" r="4.35"/><circle cx="114.0" cy="1717.1" r="4.35"/><circle cx="119.5" cy="1684.2" r="4.35"/><circle cx="102.5" cy="1711.5" r="4.35"/><circle cx="106.3" cy="1719.8" r="4.35"/><circle cx="140.9" cy="1675.6" r="4.35"/><circle cx="140.8" cy="1684.8" r="4.35"/><circle cx="143.0" cy="1672.6" r="4.35"/><circle cx="151.5" cy="1671.8" r="4.35"/><circle cx="149.1" cy="1672.7" r="4.35"/><circle cx="150.2" cy="1666.2" r="4.35"/><circle cx="135.6" cy="1696.6" r="4.35"/><circle cx="124.6" cy="1690.3" r="4.35"/><circle cx="126.4" cy="1700.2" r="4.35"/><circle cx="142.0" cy="1672.8" r="4.35"/><circle cx="141.3" cy="1679.0" r="4.35"/><circle cx="147.5" cy="1678.4" r="4.35"/><circle cx="133.3" cy="1685.1" r="4.35"/><circle cx="148.1" cy="1670.8" r="4.35"/><circle cx="133.4" cy="1686.7" r="4.35"/><circle cx="152.2" cy="1654.7" r="4.35"/><circle cx="124.1" cy="1712.5" r="4.35"/><circle cx="138.2" cy="1677.8" r="4.35"/><circle cx="147.2" cy="1666.9" r="4.35"/><circle cx="137.6" cy="1689.4" r="4.35"/><circle cx="138.3" cy="1695.5" r="4.35"/><circle cx="134.7" cy="1687.0" r="4.35"/><circle cx="153.1" cy="1656.6" r="4.35"/><circle cx="152.7" cy="1656.0" r="4.35"/><circle cx="143.0" cy="1686.7" r="4.35"/><circle cx="138.0" cy="1674.1" r="4.35"/><circle cx="128.3" cy="1684.3" r="4.35"/><circle cx="151.5" cy="1666.9" r="4.35"/><circle cx="150.8" cy="1676.9" r="4.35"/><circle cx="146.1" cy="1675.0" r="4.35"/><circle cx="131.0" cy="1695.1" r="4.35"/><circle cx="127.4" cy="1689.5" r="4.35"/><circle cx="136.4" cy="1688.3" r="4.35"/><circle cx="146.0" cy="1685.7" r="4.35"/><circle cx="142.0" cy="1673.7" r="4.35"/><circle cx="134.4" cy="1677.4" r="4.35"/><circle cx="145.6" cy="1682.2" r="4.35"/><circle cx="145.3" cy="1680.8" r="4.35"/><circle cx="151.0" cy="1674.9" r="4.35"/><circle cx="151.9" cy="1664.5" r="4.35"/><circle cx="128.4" cy="1689.5" r="4.35"/><circle cx="126.7" cy="1703.4" r="4.35"/><circle cx="126.7" cy="1699.9" r="4.35"/><circle cx="137.6" cy="1686.4" r="4.35"/><circle cx="142.7" cy="1684.0" r="4.35"/><circle cx="143.1" cy="1664.9" r="4.35"/><circle cx="150.0" cy="1690.3" r="4.35"/><circle cx="134.2" cy="1682.0" r="4.35"/><circle cx="127.8" cy="1691.1" r="4.35"/><circle cx="149.1" cy="1680.3" r="4.35"/><circle cx="145.2" cy="1669.7" r="4.35"/><circle cx="136.9" cy="1673.8" r="4.35"/><circle cx="141.1" cy="1681.6" r="4.35"/><circle cx="127.8" cy="1694.0" r="4.35"/><circle cx="136.3" cy="1674.0" r="4.35"/><circle cx="140.6" cy="1673.2" r="4.35"/><circle cx="148.6" cy="1682.2" r="4.35"/><circle cx="134.0" cy="1682.6" r="4.35"/><circle cx="150.7" cy="1669.1" r="4.35"/><circle cx="130.1" cy="1690.3" r="4.35"/><circle cx="153.7" cy="1666.8" r="4.35"/><circle cx="129.1" cy="1686.7" r="4.35"/><circle cx="123.9" cy="1695.1" r="4.35"/><circle cx="145.3" cy="1680.4" r="4.35"/><circle cx="145.1" cy="1685.2" r="4.35"/><circle cx="123.2" cy="1696.0" r="4.35"/><circle cx="146.0" cy="1687.6" r="4.35"/><circle cx="127.0" cy="1677.8" r="4.35"/><circle cx="137.5" cy="1692.0" r="4.35"/><circle cx="132.5" cy="1702.6" r="4.35"/><circle cx="136.9" cy="1686.9" r="4.35"/><circle cx="139.5" cy="1671.0" r="4.35"/><circle cx="134.6" cy="1691.6" r="4.35"/><circle cx="150.9" cy="1671.3" r="4.35"/><circle cx="137.9" cy="1686.2" r="4.35"/><circle cx="157.6" cy="1666.8" r="4.35"/><circle cx="174.9" cy="1640.4" r="4.35"/><circle cx="167.6" cy="1654.3" r="4.35"/><circle cx="152.7" cy="1666.4" r="4.35"/><circle cx="160.0" cy="1670.5" r="4.35"/><circle cx="161.6" cy="1662.6" r="4.35"/><circle cx="164.9" cy="1663.8" r="4.35"/><circle cx="155.0" cy="1650.5" r="4.35"/><circle cx="159.8" cy="1669.9" r="4.35"/><circle cx="160.9" cy="1673.0" r="4.35"/><circle cx="168.4" cy="1653.7" r="4.35"/><circle cx="179.1" cy="1641.8" r="4.35"/><circle cx="150.1" cy="1671.7" r="4.35"/><circle cx="157.5" cy="1666.3" r="4.35"/><circle cx="164.5" cy="1646.6" r="4.35"/><circle cx="157.6" cy="1672.4" r="4.35"/><circle cx="148.2" cy="1673.5" r="4.35"/><circle cx="178.0" cy="1656.4" r="4.35"/><circle cx="152.2" cy="1674.8" r="4.35"/><circle cx="176.2" cy="1654.9" r="4.35"/><circle cx="175.2" cy="1645.2" r="4.35"/><circle cx="150.5" cy="1685.9" r="4.35"/><circle cx="179.7" cy="1654.9" r="4.35"/><circle cx="152.8" cy="1678.8" r="4.35"/><circle cx="164.5" cy="1642.7" r="4.35"/><circle cx="167.6" cy="1667.0" r="4.35"/><circle cx="176.7" cy="1641.8" r="4.35"/><circle cx="156.1" cy="1665.3" r="4.35"/><circle cx="176.1" cy="1647.7" r="4.35"/><circle cx="177.4" cy="1652.3" r="4.35"/><circle cx="164.5" cy="1646.6" r="4.35"/><circle cx="171.7" cy="1636.1" r="4.35"/><circle cx="180.0" cy="1640.3" r="4.35"/><circle cx="176.7" cy="1653.9" r="4.35"/><circle cx="152.2" cy="1663.9" r="4.35"/><circle cx="178.6" cy="1643.2" r="4.35"/><circle cx="150.7" cy="1670.8" r="4.35"/><circle cx="152.2" cy="1679.1" r="4.35"/><circle cx="154.6" cy="1668.8" r="4.35"/><circle cx="176.3" cy="1653.0" r="4.35"/><circle cx="149.5" cy="1685.4" r="4.35"/><circle cx="155.6" cy="1673.0" r="4.35"/><circle cx="156.8" cy="1669.2" r="4.35"/><circle cx="168.8" cy="1655.4" r="4.35"/><circle cx="177.6" cy="1646.3" r="4.35"/><circle cx="176.2" cy="1641.6" r="4.35"/><circle cx="149.6" cy="1667.7" r="4.35"/><circle cx="173.7" cy="1654.6" r="4.35"/><circle cx="160.0" cy="1651.4" r="4.35"/><circle cx="167.1" cy="1657.6" r="4.35"/><circle cx="150.3" cy="1676.5" r="4.35"/><circle cx="170.8" cy="1653.9" r="4.35"/><circle cx="158.2" cy="1663.3" r="4.35"/><circle cx="156.1" cy="1661.8" r="4.35"/><circle cx="151.9" cy="1671.7" r="4.35"/><circle cx="175.5" cy="1637.3" r="4.35"/><circle cx="172.9" cy="1660.1" r="4.35"/><circle cx="159.2" cy="1649.8" r="4.35"/><circle cx="161.7" cy="1670.0" r="4.35"/><circle cx="163.8" cy="1661.0" r="4.35"/><circle cx="169.3" cy="1651.0" r="4.35"/><circle cx="158.7" cy="1658.4" r="4.35"/><circle cx="162.1" cy="1660.1" r="4.35"/><circle cx="150.3" cy="1662.0" r="4.35"/><circle cx="161.6" cy="1670.3" r="4.35"/><circle cx="152.5" cy="1666.8" r="4.35"/><circle cx="169.0" cy="1669.4" r="4.35"/><circle cx="152.4" cy="1665.6" r="4.35"/><circle cx="160.8" cy="1657.6" r="4.35"/><circle cx="174.0" cy="1664.4" r="4.35"/><circle cx="176.6" cy="1650.4" r="4.35"/><circle cx="156.2" cy="1663.7" r="4.35"/><circle cx="168.4" cy="1657.7" r="4.35"/><circle cx="154.1" cy="1674.6" r="4.35"/><circle cx="176.1" cy="1648.4" r="4.35"/><circle cx="174.8" cy="1642.3" r="4.35"/><circle cx="172.9" cy="1655.4" r="4.35"/><circle cx="167.9" cy="1665.8" r="4.35"/><circle cx="167.9" cy="1657.6" r="4.35"/><circle cx="177.9" cy="1641.2" r="4.35"/><circle cx="151.4" cy="1669.7" r="4.35"/><circle cx="172.1" cy="1656.4" r="4.35"/><circle cx="176.9" cy="1644.8" r="4.35"/><circle cx="176.0" cy="1647.6" r="4.35"/><circle cx="155.4" cy="1668.8" r="4.35"/><circle cx="188.4" cy="1632.1" r="4.35"/><circle cx="174.2" cy="1654.3" r="4.35"/><circle cx="183.9" cy="1649.6" r="4.35"/><circle cx="187.8" cy="1640.2" r="4.35"/><circle cx="173.6" cy="1655.8" r="4.35"/><circle cx="173.9" cy="1655.8" r="4.35"/><circle cx="177.5" cy="1653.8" r="4.35"/><circle cx="188.5" cy="1637.1" r="4.35"/><circle cx="188.2" cy="1641.8" r="4.35"/><circle cx="189.9" cy="1640.1" r="4.35"/></g>
<g fill="none" stroke="#E21F2A" stroke-width="2.4"><circle cx="133.6" cy="1739.2" r="4.35"/><circle cx="131.0" cy="1742.0" r="4.35"/><circle cx="128.8" cy="1744.0" r="4.35"/><circle cx="127.7" cy="1749.0" r="4.35"/><circle cx="167.6" cy="1694.3" r="4.35"/><circle cx="180.3" cy="1680.5" r="4.35"/><circle cx="326.1" cy="1751.2" r="4.35"/><circle cx="269.7" cy="1683.2" r="4.35"/><circle cx="239.1" cy="1670.4" r="4.35"/><circle cx="207.8" cy="1668.0" r="4.35"/><circle cx="207.8" cy="1673.9" r="4.35"/><circle cx="205.5" cy="1680.3" r="4.35"/><circle cx="220.1" cy="1679.7" r="4.35"/><circle cx="227.4" cy="1685.0" r="4.35"/><circle cx="221.5" cy="1690.8" r="4.35"/></g>
<line x1="61.6" y1="1762" x2="349.3" y2="1474.6" stroke="#262626" stroke-width="3.5" stroke-dasharray="12 11.6"/>
<text transform="translate(61.60 1783.20) scale(.99 1)" text-anchor="middle" font-size="14.6" fill="#1c1c1c">25</text>
<text transform="translate(55.20 1768.30) scale(.99 1)" text-anchor="end" font-size="14.6" fill="#1c1c1c">25</text>
<text transform="translate(119.14 1783.20) scale(.99 1)" text-anchor="middle" font-size="14.6" fill="#1c1c1c">30</text>
<text transform="translate(55.20 1710.82) scale(.99 1)" text-anchor="end" font-size="14.6" fill="#1c1c1c">30</text>
<text transform="translate(176.68 1783.20) scale(.99 1)" text-anchor="middle" font-size="14.6" fill="#1c1c1c">35</text>
<text transform="translate(55.20 1653.34) scale(.99 1)" text-anchor="end" font-size="14.6" fill="#1c1c1c">35</text>
<text transform="translate(234.22 1783.20) scale(.99 1)" text-anchor="middle" font-size="14.6" fill="#1c1c1c">40</text>
<text transform="translate(55.20 1595.86) scale(.99 1)" text-anchor="end" font-size="14.6" fill="#1c1c1c">40</text>
<text transform="translate(291.76 1783.20) scale(.99 1)" text-anchor="middle" font-size="14.6" fill="#1c1c1c">45</text>
<text transform="translate(55.20 1538.38) scale(.99 1)" text-anchor="end" font-size="14.6" fill="#1c1c1c">45</text>
<text transform="translate(349.30 1783.20) scale(.99 1)" text-anchor="middle" font-size="14.6" fill="#1c1c1c">50</text>
<text transform="translate(55.20 1480.90) scale(.99 1)" text-anchor="end" font-size="14.6" fill="#1c1c1c">50</text>
<rect x="73.5" y="1486.2" width="261.50" height="66.00" fill="#fff" stroke="#222" stroke-width="1.2"/>
<circle cx="100.3" cy="1498.7" r="4.5" fill="none" stroke="#0072BD" stroke-width="2.4"/>
<text x="126.2" y="1505.1" font-size="17.6" letter-spacing="0.15" fill="#1a1a1a">model error (energy input)</text>
<circle cx="100.3" cy="1519.9" r="4.5" fill="none" stroke="#E21F2A" stroke-width="2.4"/>
<text x="126.2" y="1526.3" font-size="17.6" letter-spacing="0.15" fill="#1a1a1a">outlier (energy input)</text>
<line x1="77.7" y1="1540.7" x2="113.7" y2="1540.7" stroke="#262626" stroke-width="3.3" stroke-dasharray="12.1 11.7"/>
<text x="126.2" y="1547.1" font-size="17.6" letter-spacing="0.15" fill="#1a1a1a">ideal model (energy input)</text>
<text x="4" y="1481.6" font-size="28" font-weight="bold" fill="#000">e</text>
<text font-size="17.4" fill="#262626"><tspan x="86.8" y="1810.3">(P/A)</tspan><tspan dy="9.5" font-size="14.3">max</tspan><tspan dy="-9.5" dx="1" xml:space="preserve"> [W/mm</tspan><tspan dy="-8.5" dx=".4" font-size="14.3">2</tspan><tspan dy="8.5" dx=".6">]</tspan><tspan dx="1" xml:space="preserve"> (simulation</tspan><tspan dx="1.6">)</tspan></text>
<g transform="translate(19,1738.9) rotate(-90)"><text font-size="17.6" fill="#262626"><tspan x="0" y="0">(P/A)</tspan><tspan dy="9.5" font-size="14.3">max</tspan><tspan dy="-9.5" xml:space="preserve"> [W/mm</tspan><tspan dy="-8.5" font-size="14.3">2</tspan><tspan dy="8.5">] (regression)</tspan></text></g>
</svg>
</body></html>
